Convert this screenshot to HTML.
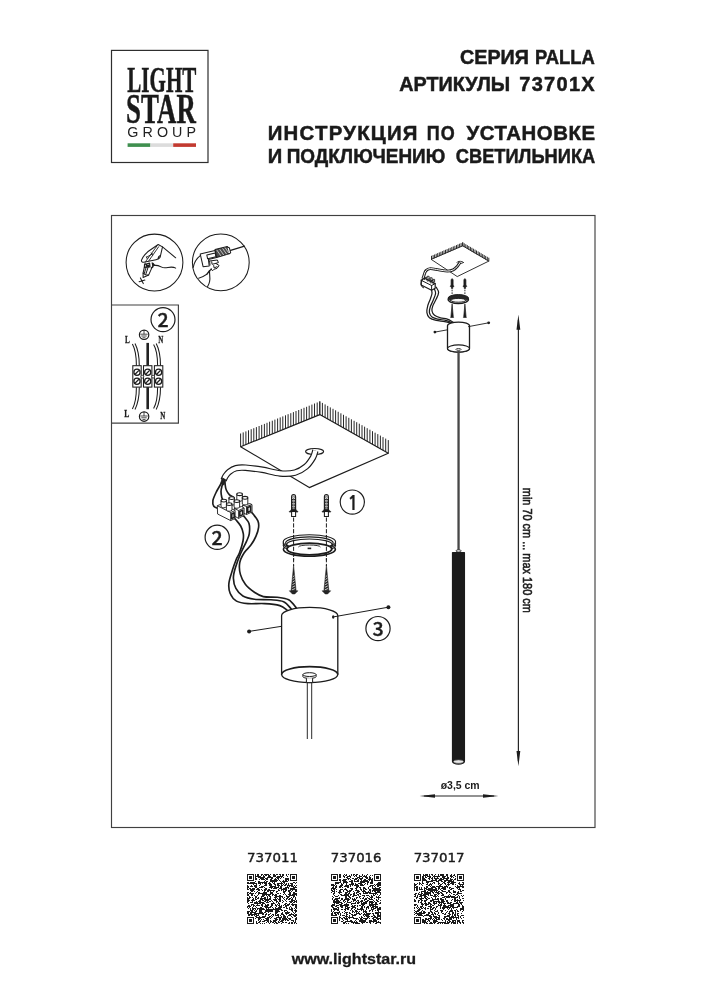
<!DOCTYPE html>
<html lang="ru"><head><meta charset="utf-8"><title>Lightstar PALLA 73701X</title>
<style>
html,body{margin:0;padding:0;background:#fff;}
body{width:707px;height:1000px;overflow:hidden;font-family:"Liberation Sans",sans-serif;}
svg{display:block;will-change:transform;}
</style></head><body>
<svg width="707" height="1000" viewBox="0 0 707 1000">
<rect width="707" height="1000" fill="#fff"/>
<g id="logo">
<rect x="111.5" y="50.4" width="96.5" height="112.1" fill="#fff" stroke="#2e2e2e" stroke-width="1.2"/>
<text transform="translate(127.28 91.7) scale(0.5888 1)" font-family="'Liberation Serif', serif" font-weight="bold" font-size="35.8" fill="#1a1a1a" stroke="#1a1a1a" stroke-width="0.5">LIGHT</text>
<text transform="translate(126.12 122.8) scale(0.6476 1)" font-family="'Liberation Serif', serif" font-weight="bold" font-size="41.5" fill="#1a1a1a" stroke="#1a1a1a" stroke-width="0.5">STAR</text>
<text transform="translate(127.28 136.6) scale(1.0000 1)" font-family="'Liberation Sans', sans-serif" font-weight="normal" font-size="14.3" fill="#222" letter-spacing="4.080">GROUP</text>
<rect x="127.6" y="143.3" width="22.8" height="3.6" fill="#3f8f4f"/>
<rect x="150.4" y="143.3" width="22.8" height="3.6" fill="#dcdcdc"/>
<rect x="173.2" y="143.3" width="22.8" height="3.6" fill="#c23a30"/>
</g>
<text transform="translate(460.01 64.4) scale(0.9867 1)" font-family="'Liberation Sans', sans-serif" font-weight="bold" font-size="20" fill="#1a1a1a" stroke="#1a1a1a" stroke-width="0.5">СЕРИЯ</text>
<text transform="translate(534.90 64.4) scale(0.9210 1)" font-family="'Liberation Sans', sans-serif" font-weight="bold" font-size="20" fill="#1a1a1a" stroke="#1a1a1a" stroke-width="0.5">PALLA</text>
<text transform="translate(399.20 91.4) scale(0.9909 1)" font-family="'Liberation Sans', sans-serif" font-weight="bold" font-size="20" fill="#1a1a1a" stroke="#1a1a1a" stroke-width="0.5">АРТИКУЛЫ</text>
<text transform="translate(519.30 91.4) scale(1.0000 1)" font-family="'Liberation Sans', sans-serif" font-weight="bold" font-size="20" fill="#1a1a1a" stroke="#1a1a1a" stroke-width="0.5" letter-spacing="1.280">73701X</text>
<text transform="translate(267.67 139.7) scale(1.0000 1)" font-family="'Liberation Sans', sans-serif" font-weight="bold" font-size="20.4" fill="#1a1a1a" stroke="#1a1a1a" stroke-width="0.5" letter-spacing="1.237">ИНСТРУКЦИЯ</text>
<text transform="translate(426.73 139.7) scale(0.8800 1)" font-family="'Liberation Sans', sans-serif" font-weight="bold" font-size="20.4" fill="#1a1a1a" stroke="#1a1a1a" stroke-width="0.5" letter-spacing="1.189">ПО</text>
<text transform="translate(466.40 139.7) scale(1.0000 1)" font-family="'Liberation Sans', sans-serif" font-weight="bold" font-size="20.4" fill="#1a1a1a" stroke="#1a1a1a" stroke-width="0.5" letter-spacing="0.573">УСТАНОВКЕ</text>
<text transform="translate(267.69 162.9) scale(0.9888 1)" font-family="'Liberation Sans', sans-serif" font-weight="bold" font-size="20.4" fill="#1a1a1a" stroke="#1a1a1a" stroke-width="0.5">И</text>
<text transform="translate(286.67 162.9) scale(0.9294 1)" font-family="'Liberation Sans', sans-serif" font-weight="bold" font-size="20.4" fill="#1a1a1a" stroke="#1a1a1a" stroke-width="0.5">ПОДКЛЮЧЕНИЮ</text>
<text transform="translate(455.77 162.9) scale(0.8956 1)" font-family="'Liberation Sans', sans-serif" font-weight="bold" font-size="20.4" fill="#1a1a1a" stroke="#1a1a1a" stroke-width="0.5">СВЕТИЛЬНИКА</text>
<g id="frame" fill="none" stroke="#404040" stroke-width="1.15">
<rect x="111.5" y="215.5" width="483.5" height="612"/>
<path d="M111.5 305.0H178.4V423.1H111.5"/>
</g>
<g id="icons" fill="none" stroke="#1c1c1c" stroke-width="1.05" stroke-linecap="round" stroke-linejoin="round">
<circle cx="154.5" cy="262.5" r="28.4" stroke-width="1.05"/>
<circle cx="220.8" cy="262.4" r="28.4" stroke-width="1.05"/>
<path d="M158.2 244.5 L147.7 251.8 C144.5 254.6 142.3 257.8 141.4 260.4 C141.4 261.6 142.3 262.4 143.6 262.3 L156.0 259.7 C159.2 259.1 160.5 257.8 160.5 255.6 L162.5 246.9 Z" fill="#fff"/>
<path d="M160.5 255.6 C159.2 255.9 158.2 257.2 158.2 258.8"/>
<path d="M157.0 245.9 L145.8 261.3 M158.7 246.7 L148.7 261.0" stroke-dasharray="1.1 0.6" stroke-width="0.9"/>
<path d="M146.5 257.2 L152.8 253.7 M151.2 253.0 L152.5 255.0 M146.5 256.9 L147.1 258.5" stroke-width="0.9"/>
<path d="M145.2 262.9 L143.1 273.1 L143.1 277.4 L148.7 274.9 L153.1 265.1" fill="#fff"/>
<path d="M143.1 273.1 L145.5 274.7 L148.7 274.9"/>
<path d="M146.8 265.1 L144.2 273.4 M148.7 265.5 L145.8 274.1" stroke-dasharray="1.1 0.6"/>
<path d="M144.5 264.5 L149.6 263.2 L150.0 266.7 L144.5 267.4 Z M146.5 265.1 L149.3 267.1 M152.2 262.9 L153.1 266.7 L151.2 268.0" stroke-width="1.2"/>
<path d="M146.8 265.5 L149.3 265.1 L148.7 266.7Z" fill="#1c1c1c"/>
<path d="M153.1 263.6 L154.1 265.1" stroke-width="1.6"/>
<path d="M162.5 246.9 L175.7 257.8"/>
<path d="M153.5 265.1 C156.6 265.1 159.2 265.5 161.7 267.1 S168.1 267.1 171.3 267.1 S174.5 267.4 175.7 268.1"/>
<path d="M140.4 277.9 L143.3 283.6 M139.1 281.7 L144.9 280.1"/>
<path d="M200.2 254.0 L215.0 250.5 L216.6 257.5 L208.4 259.5 L209.2 265.9 L203.1 266.7 Z" fill="#fff"/>
<path d="M206.8 255.0 L215.2 253.1 L216.0 256.7 L207.6 258.7 Z"/>
<path d="M215.0 249.5 L227.3 246.6 L229.1 253.8 L216.6 257.5 Z" fill="#4a4a4a"/>
<path d="M217.0 250.3 L220.7 255.6 M219.9 249.5 L223.6 254.8 M222.8 248.7 L226.5 254.0 M225.2 247.8 L228.5 252.6" stroke="#e8e8e8" stroke-width="0.75"/>
<path d="M227.3 246.9 L229.3 247.7 L230.7 252.9 L229.1 253.8" fill="#fff"/>
<path d="M230.6 250.3 L244.5 246.2" stroke-width="1.3"/>
<path d="M209.6 261.0 L217.4 260.0 L218.4 262.6 L215.8 263.4 L219.1 265.5 L217.0 268.4 L214.1 269.2 L212.5 270.8 L211.3 269.2 M211.7 261.8 L212.1 264.3 L215.8 263.4 M213.7 265.5 L214.1 267.9 L217.0 266.7 M209.6 261.0 L210.0 265.1" stroke-width="1"/>
<path d="M200.2 255.6 C196.5 258.5 194.1 262.6 193.2 267.5"/>
<path d="M198.6 278.2 C203.5 277.0 208.4 274.1 211.3 268.8"/>
<path d="M209.6 270.4 C208.0 272.5 207.2 273.7 206.8 274.5 M209.6 270.8 C209.2 274.1 210.5 277.4 209.6 281.5 C209.2 283.5 208.4 285.2 207.6 286.6" stroke-width="1.1"/>
</g>
<g id="wiring" fill="none" stroke="#1c1c1c" stroke-width="1.05">
<circle cx="163.0" cy="319.6" r="12.0" fill="#fff" stroke="#1c1c1c" stroke-width="1.2"/>
<text x="163.0" y="326.8" text-anchor="middle" font-family="'Noto Sans CJK SC', 'Liberation Sans', sans-serif" font-weight="500" font-size="19.6" fill="#1c1c1c" stroke="#1c1c1c" stroke-width="0.35">2</text>
<circle cx="144.1" cy="334.8" r="4.7" fill="#fff" stroke-width="1.2"/>
<path d="M144 330.0V334.2M140.3 334.2H147.7M141.3 336.0H146.7M142.5 337.8H145.5" stroke-width="0.8"/>
<circle cx="144.1" cy="416.6" r="4.7" fill="#fff" stroke-width="1.2"/>
<path d="M144 411.8V416.0M140.3 416.0H147.7M141.3 417.8H146.7M142.5 419.6H145.5" stroke-width="0.8"/>
<rect x="146.4" y="342.9" width="2.6" height="22.8" fill="#222" stroke="none"/>
<rect x="146.4" y="387.1" width="2.6" height="22.1" fill="#222" stroke="none"/>
<path d="M132.4 344.0 C135.4 349.4 136.4 357.2 136.4 365.7 M135.0 343.6 C138.0 349.4 139.3 357.2 139.3 365.7"/>
<path d="M132.4 409.0 C135.4 403.5 136.4 395.7 136.4 387.3 M135.0 409.4 C138.0 403.5 139.3 395.7 139.3 387.3"/>
<path d="M153.6 344.5 C156.6 349.4 157.6 357.2 157.6 365.7 M156.2 343.6 C159.2 349.4 160.5 357.2 160.5 365.7"/>
<path d="M153.6 408.5 C156.6 403.5 157.6 395.7 157.6 387.3 M156.2 409.4 C159.2 403.5 160.5 395.7 160.5 387.3"/>
<rect x="132.8" y="365.7" width="8.4" height="21.4" fill="#fff"/>
<circle cx="137.0" cy="372.3" r="3.1" fill="#fff" stroke-width="1.25"/>
<path d="M135.1 374.2L138.9 370.40000000000003" stroke-width="1.3"/>
<circle cx="137.0" cy="381.2" r="3.1" fill="#fff" stroke-width="1.25"/>
<path d="M135.1 383.09999999999997L138.9 379.3" stroke-width="1.3"/>
<rect x="143.5" y="365.7" width="8.4" height="21.4" fill="#fff"/>
<circle cx="147.7" cy="372.3" r="3.1" fill="#fff" stroke-width="1.25"/>
<path d="M145.79999999999998 374.2L149.6 370.40000000000003" stroke-width="1.3"/>
<circle cx="147.7" cy="381.2" r="3.1" fill="#fff" stroke-width="1.25"/>
<path d="M145.79999999999998 383.09999999999997L149.6 379.3" stroke-width="1.3"/>
<rect x="154.4" y="365.7" width="8.4" height="21.4" fill="#fff"/>
<circle cx="158.6" cy="372.3" r="3.1" fill="#fff" stroke-width="1.25"/>
<path d="M156.7 374.2L160.5 370.40000000000003" stroke-width="1.3"/>
<circle cx="158.6" cy="381.2" r="3.1" fill="#fff" stroke-width="1.25"/>
<path d="M156.7 383.09999999999997L160.5 379.3" stroke-width="1.3"/>
<circle cx="142.35" cy="376.7" r="1.4" fill="#fff" stroke-width="0.8"/>
<circle cx="153.15" cy="376.7" r="1.4" fill="#fff" stroke-width="0.8"/>
</g>
<text transform="translate(125.09 342.8) scale(0.6936 1)" font-family="'Liberation Serif', serif" font-weight="bold" font-size="10.4" fill="#1c1c1c" stroke="#1c1c1c" stroke-width="0.3">L</text>
<text transform="translate(158.16 342.8) scale(0.6689 1)" font-family="'Liberation Serif', serif" font-weight="bold" font-size="10.4" fill="#1c1c1c" stroke="#1c1c1c" stroke-width="0.3">N</text>
<text transform="translate(124.29 417.4) scale(0.7251 1)" font-family="'Liberation Serif', serif" font-weight="bold" font-size="10.4" fill="#1c1c1c" stroke="#1c1c1c" stroke-width="0.3">L</text>
<text transform="translate(160.26 418.7) scale(0.6689 1)" font-family="'Liberation Serif', serif" font-weight="bold" font-size="10.4" fill="#1c1c1c" stroke="#1c1c1c" stroke-width="0.3">N</text>
<g id="main" fill="none" stroke="#1c1c1c" stroke-width="1.15" stroke-linejoin="round">
<path d="M240.6 446.7L319.8 414.6L388.3 453.3L309.3 487.6Z" fill="#fff"/>
<path d="M240.6 446.7v-13.2M243.2 445.6v-13.2M245.9 444.6v-13.2M248.5 443.5v-13.2M251.2 442.4v-13.2M253.8 441.4v-13.2M256.4 440.3v-13.2M259.1 439.2v-13.2M261.7 438.1v-13.2M264.4 437.1v-13.2M267.0 436.0v-13.2M269.6 434.9v-13.2M272.3 433.9v-13.2M274.9 432.8v-13.2M277.6 431.7v-13.2M280.2 430.6v-13.2M282.8 429.6v-13.2M285.5 428.5v-13.2M288.1 427.4v-13.2M290.8 426.4v-13.2M293.4 425.3v-13.2M296.0 424.2v-13.2M298.7 423.2v-13.2M301.3 422.1v-13.2M304.0 421.0v-13.2M306.6 420.0v-13.2M309.2 418.9v-13.2M311.9 417.8v-13.2M314.5 416.7v-13.2M317.2 415.7v-13.2M319.8 414.6v-13.2" fill="none" stroke="#1c1c1c" stroke-width="0.95"/>
<path d="M319.8 414.6v-13.2M322.4 416.1v-13.2M325.1 417.6v-13.2M327.7 419.1v-13.2M330.3 420.6v-13.2M333.0 422.0v-13.2M335.6 423.5v-13.2M338.2 425.0v-13.2M340.9 426.5v-13.2M343.5 428.0v-13.2M346.1 429.5v-13.2M348.8 431.0v-13.2M351.4 432.5v-13.2M354.1 434.0v-13.2M356.7 435.4v-13.2M359.3 436.9v-13.2M362.0 438.4v-13.2M364.6 439.9v-13.2M367.2 441.4v-13.2M369.9 442.9v-13.2M372.5 444.4v-13.2M375.1 445.9v-13.2M377.8 447.3v-13.2M380.4 448.8v-13.2M383.0 450.3v-13.2M385.7 451.8v-13.2M388.3 453.3v-13.2" fill="none" stroke="#1c1c1c" stroke-width="0.95"/>
<ellipse cx="314.6" cy="451.5" rx="9" ry="3" fill="#fff"/>
</g>
<path d="M315.4 450.6 C315.0 451.8 314.6 454.8 313.0 457.5 C311.4 460.2 309.0 464.1 306.0 466.6 C303.0 469.1 299.3 471.5 295.0 472.6 C290.7 473.7 285.4 473.9 280.0 473.4 C274.6 472.9 268.1 470.8 262.4 469.8 C256.6 468.9 249.9 468.0 245.5 467.7 C241.1 467.4 238.7 467.5 236.0 468.2 C233.3 468.9 230.9 470.5 229.2 471.8 C227.5 473.1 226.5 474.6 225.6 476.0 C224.7 477.4 223.9 479.5 223.6 480.2" fill="none" stroke="#1c1c1c" stroke-width="6.5" stroke-linecap="butt"/>
<path d="M315.4 450.6 C315.0 451.8 314.6 454.8 313.0 457.5 C311.4 460.2 309.0 464.1 306.0 466.6 C303.0 469.1 299.3 471.5 295.0 472.6 C290.7 473.7 285.4 473.9 280.0 473.4 C274.6 472.9 268.1 470.8 262.4 469.8 C256.6 468.9 249.9 468.0 245.5 467.7 C241.1 467.4 238.7 467.5 236.0 468.2 C233.3 468.9 230.9 470.5 229.2 471.8 C227.5 473.1 226.5 474.6 225.6 476.0 C224.7 477.4 223.9 479.5 223.6 480.2" fill="none" stroke="#fff" stroke-width="4.2" stroke-linecap="butt"/>
<g fill="none" stroke="#1c1c1c" stroke-width="1.65" stroke-linecap="round">
<path d="M223.3 479.3 C222.8 480.3 221.1 483.4 220.0 485.5 C218.9 487.6 217.7 489.1 216.5 491.6 C215.3 494.1 213.3 498.1 212.9 500.5 C212.5 502.9 213.0 505.0 213.8 506.3 C214.6 507.6 217.1 508.0 217.8 508.4"/>
<path d="M224.0 479.8 C223.7 480.8 222.5 484.0 222.0 486.0 C221.5 488.0 221.0 489.7 221.0 491.6 C221.0 493.5 221.4 495.9 221.8 497.5 C222.2 499.1 223.4 500.8 223.7 501.4"/>
<path d="M224.9 480.0 C224.9 480.8 225.0 483.3 225.2 485.0 C225.4 486.7 225.6 488.4 226.3 490.0 C227.0 491.6 228.3 493.6 229.5 494.8 C230.7 496.0 232.8 496.8 233.5 497.2"/>
<path d="M222.4 478.0 L225.4 479.6 L223.8 485 L221.2 483.6Z" fill="#222" stroke-width="0.8"/>
<path d="M233.6 517.4 C234.1 517.9 235.1 518.9 236.3 520.3 C237.5 521.7 239.5 523.8 240.7 526.0 C241.9 528.2 242.9 531.1 243.3 533.6 C243.7 536.1 243.6 537.8 243.0 541.0 C242.4 544.2 240.7 549.5 239.5 552.7 C238.3 555.9 237.1 557.2 236.0 560.0 C234.9 562.8 233.9 565.4 232.7 569.3 C231.5 573.2 229.3 579.3 228.9 583.3 C228.5 587.3 228.9 590.5 230.2 593.5 C231.5 596.5 233.5 599.4 236.5 601.1 C239.5 602.8 243.3 603.2 248.0 603.6 C252.7 604.0 259.3 603.3 264.6 603.6 C269.9 603.9 276.0 604.5 279.8 605.6 C283.6 606.8 286.2 609.7 287.5 610.5"/>
<path d="M242.0 514.2 C242.4 514.7 243.4 515.6 244.6 517.1 C245.8 518.6 248.2 520.8 249.0 523.5 C249.8 526.2 249.7 530.6 249.3 533.6 C248.9 536.6 248.0 537.9 246.5 541.3 C245.0 544.7 242.3 549.5 240.4 554.0 C238.5 558.5 236.5 564.0 235.3 568.0 C234.1 572.0 233.3 574.8 233.4 578.2 C233.5 581.6 234.3 585.4 235.9 588.4 C237.5 591.4 239.8 594.2 242.9 596.0 C246.0 597.8 249.7 598.6 254.4 599.2 C259.1 599.8 266.0 599.4 270.9 599.8 C275.8 600.2 280.2 600.2 283.6 601.7 C287.0 603.2 290.0 607.8 291.3 609.0"/>
<path d="M250.6 511.4 C251.1 511.9 252.3 513.0 253.5 514.6 C254.7 516.2 257.0 518.8 257.9 520.9 C258.8 523.0 258.9 524.8 258.6 527.3 C258.3 529.8 257.3 533.2 256.0 536.2 C254.7 539.2 252.9 542.4 250.9 545.1 C248.9 547.9 246.1 549.7 244.2 552.7 C242.3 555.7 240.3 559.3 239.7 562.9 C239.1 566.5 239.4 570.8 240.4 574.4 C241.4 578.0 243.2 581.6 245.5 584.6 C247.8 587.6 251.4 590.2 254.4 592.2 C257.4 594.2 259.5 595.8 263.3 596.6 C267.1 597.5 273.1 596.8 277.3 597.3 C281.5 597.8 285.5 598.0 288.7 599.8 C291.9 601.6 295.1 606.6 296.4 608.0"/>
</g>
<g id="term" fill="#fff" stroke="#1c1c1c" stroke-width="0.9" stroke-linejoin="round">
<path d="M242.6 505.0 L250.0 503.6 L252.0 504.6 L252.0 512.0 L246.5 514.5 L242.6 512.5Z"/>
<path d="M246.5 506.5 L252.0 504.6 M246.5 506.5 L246.5 514.5 M246.5 506.5 L242.6 505.0"/>
<path d="M247.7 507.5 L250.7 506.3 L250.7 511.0 L247.7 512.5Z" fill="#ddd" stroke-width="1.5"/>
<path d="M234.2 508.5 L241.6 506.5 L244.1 508.0 L244.1 515.4 L238.6 518.4 L234.2 515.9Z"/>
<path d="M238.6 510.5 L244.1 508.0 M238.6 510.5 L238.6 518.4 M238.6 510.5 L234.2 508.5"/>
<path d="M239.8 511.5 L242.8 510.1 L242.8 514.7 L239.8 516.2Z" fill="#ddd" stroke-width="1.5"/>
<path d="M217.3 505.7 L221.3 504.1 L235.1 510.5 L235.1 518.4 L230.7 520.6 L217.6 514.0Z"/>
<path d="M217.3 505.7 L230.7 512.5 L235.1 510.5 M230.7 512.5 L230.7 520.6"/>
<path d="M231.7 514.0 L234.2 512.8 L234.2 517.4 L231.7 518.7Z" fill="#ddd" stroke-width="1.5"/>
<path d="M236.8 494.2 L236.8 500.3 C238.2 501.7 241.0 501.7 242.4 500.3 L242.4 494.2Z"/>
<ellipse cx="239.6" cy="494.2" rx="2.8" ry="1.4" stroke-width="1.1"/>
<path d="M242.3 497.8 L242.3 504.0 C243.7 505.3 246.4 505.3 247.8 504.0 L247.8 497.8Z"/>
<ellipse cx="245.0" cy="497.8" rx="2.8" ry="1.4" stroke-width="1.1"/>
<path d="M228.9 498.1 L228.9 504.3 C230.3 505.6 233.1 505.6 234.5 504.3 L234.5 498.1Z"/>
<ellipse cx="231.7" cy="498.1" rx="2.8" ry="1.4" stroke-width="1.1"/>
<path d="M234.1 501.1 L234.1 507.2 C235.4 508.6 238.2 508.6 239.6 507.2 L239.6 501.1Z"/>
<ellipse cx="236.8" cy="501.1" rx="2.8" ry="1.4" stroke-width="1.1"/>
<path d="M221.0 500.6 L221.0 506.7 C222.4 508.1 225.1 508.1 226.5 506.7 L226.5 500.6Z"/>
<ellipse cx="223.8" cy="500.6" rx="2.8" ry="1.4" stroke-width="1.1"/>
<path d="M226.4 504.1 L226.4 510.2 C227.8 511.6 230.6 511.6 232.0 510.2 L232.0 504.1Z"/>
<ellipse cx="229.2" cy="504.1" rx="2.8" ry="1.4" stroke-width="1.1"/>
</g>
<circle cx="217.2" cy="537.3" r="12.1" fill="#fff" stroke="#1c1c1c" stroke-width="1.2"/>
<text x="217.2" y="544.5" text-anchor="middle" font-family="'Noto Sans CJK SC', 'Liberation Sans', sans-serif" font-weight="500" font-size="19.6" fill="#1c1c1c" stroke="#1c1c1c" stroke-width="0.35">2</text>
<circle cx="352.3" cy="502.1" r="12.1" fill="#fff" stroke="#1c1c1c" stroke-width="1.2"/>
<text x="353.1" y="509.8" text-anchor="middle" font-family="NanumGothic, 'Liberation Sans', sans-serif" font-weight="bold" font-size="19" fill="#1c1c1c" stroke="#1c1c1c" stroke-width="0.2">1</text>
<circle cx="378.0" cy="628.6" r="12.1" fill="#fff" stroke="#1c1c1c" stroke-width="1.2"/>
<text x="378.0" y="635.8" text-anchor="middle" font-family="'Noto Sans CJK SC', 'Liberation Sans', sans-serif" font-weight="500" font-size="19.6" fill="#1c1c1c" stroke="#1c1c1c" stroke-width="0.35">3</text>
<path d="M293.6 517.5V566" stroke="#1c1c1c" stroke-width="1" stroke-dasharray="4.2 1.6" fill="none"/>
<path d="M326.4 517.5V566" stroke="#1c1c1c" stroke-width="1" stroke-dasharray="4.2 1.6" fill="none"/>
<g id="ring" fill="none" stroke="#1c1c1c" stroke-width="1.15">
<ellipse cx="309.4" cy="549.3" rx="26.0" ry="6.9" fill="#fff" stroke-width="1.6"/>
<ellipse cx="309.4" cy="545.2" rx="26.2" ry="7.0" fill="#fff"/>
<ellipse cx="309.4" cy="543.6" rx="26.2" ry="7.0" fill="#fff"/>
<ellipse cx="309.4" cy="541.9" rx="26.2" ry="7.2" fill="#fff"/>
<ellipse cx="309.4" cy="543.0" rx="23.8" ry="6.2"/>
<ellipse cx="309.4" cy="544.6" rx="22.8" ry="5.6"/>
<ellipse cx="309.4" cy="549.0" rx="22.4" ry="5.8" fill="#fff" stroke-width="1.8"/>
<path d="M298.4 547.0 A11 2.0 0 0 1 320.4 547.0" stroke-width="0.9"/>
<rect x="307.59999999999997" y="547.6" width="3.6" height="1.6" fill="#222" stroke="none"/>
</g>
<path d="M293.6 534V560.5" stroke="#1c1c1c" stroke-width="1" stroke-dasharray="4.2 1.6" stroke-dashoffset="-1.1" fill="none"/>
<path d="M291.6 510.1 V496.9 A2.0 2.4 0 0 1 295.6 496.9 V510.1Z" fill="#fff" stroke="#1c1c1c" stroke-width="1.15"/>
<path d="M291.6 499.5H295.6M291.6 501.1H295.6M291.6 502.6H295.6M291.6 504.2H295.6M291.6 505.7H295.6M291.6 507.3H295.6M291.6 508.8H295.6" fill="none" stroke="#1c1c1c" stroke-width="0.95"/>
<path d="M293.6 499.3V510.1" fill="none" stroke="#aaa" stroke-width="0.6"/>
<ellipse cx="293.6" cy="497.3" rx="0.8" ry="1.4" fill="#fff" stroke="#1c1c1c" stroke-width="0.6"/>
<path d="M289.20000000000005 511.5 Q290.8 511.1 291.20000000000005 509.5 H296.0 Q296.40000000000003 511.1 298.0 511.5 L297.8 512.1 H289.40000000000003Z" fill="#1c1c1c" stroke="#1c1c1c" stroke-width="0.6"/>
<path d="M291.6 512.1 V516.5 H295.6 V512.1" fill="#fff" stroke="#1c1c1c" stroke-width="1.05"/>
<path d="M293.6 565.0 L291.1 590.8 H296.1Z" fill="#262626" stroke="#1c1c1c" stroke-width="0.5" stroke-linejoin="round"/>
<path d="M292.9 576.9L294.3 575.5M292.7 579.5L294.5 578.1M292.5 582.1L294.7 580.7M292.4 584.7L294.8 583.3M292.2 587.3L295.0 585.9M292.0 589.9L295.2 588.5" fill="none" stroke="#f0f0f0" stroke-width="0.8"/>
<path d="M289.3 590.8 H297.90000000000003 L294.8 594.0 H292.40000000000003Z" fill="#262626" stroke="#1c1c1c" stroke-width="0.5" stroke-linejoin="round"/>
<path d="M326.4 534V560.5" stroke="#1c1c1c" stroke-width="1" stroke-dasharray="4.2 1.6" stroke-dashoffset="-1.1" fill="none"/>
<path d="M324.4 510.1 V496.9 A2.0 2.4 0 0 1 328.4 496.9 V510.1Z" fill="#fff" stroke="#1c1c1c" stroke-width="1.15"/>
<path d="M324.4 499.5H328.4M324.4 501.1H328.4M324.4 502.6H328.4M324.4 504.2H328.4M324.4 505.7H328.4M324.4 507.3H328.4M324.4 508.8H328.4" fill="none" stroke="#1c1c1c" stroke-width="0.95"/>
<path d="M326.4 499.3V510.1" fill="none" stroke="#aaa" stroke-width="0.6"/>
<ellipse cx="326.4" cy="497.3" rx="0.8" ry="1.4" fill="#fff" stroke="#1c1c1c" stroke-width="0.6"/>
<path d="M322.0 511.5 Q323.59999999999997 511.1 324.0 509.5 H328.79999999999995 Q329.2 511.1 330.79999999999995 511.5 L330.59999999999997 512.1 H322.2Z" fill="#1c1c1c" stroke="#1c1c1c" stroke-width="0.6"/>
<path d="M324.4 512.1 V516.5 H328.4 V512.1" fill="#fff" stroke="#1c1c1c" stroke-width="1.05"/>
<path d="M326.4 565.0 L323.9 590.8 H328.9Z" fill="#262626" stroke="#1c1c1c" stroke-width="0.5" stroke-linejoin="round"/>
<path d="M325.7 576.9L327.1 575.5M325.5 579.5L327.3 578.1M325.3 582.1L327.5 580.7M325.2 584.7L327.6 583.3M325.0 587.3L327.8 585.9M324.8 589.9L328.0 588.5" fill="none" stroke="#f0f0f0" stroke-width="0.8"/>
<path d="M322.09999999999997 590.8 H330.7 L327.59999999999997 594.0 H325.2Z" fill="#262626" stroke="#1c1c1c" stroke-width="0.5" stroke-linejoin="round"/>
<g id="cyl" fill="none" stroke="#1c1c1c" stroke-width="1.3">
<path d="M281.59999999999997 674.6 V615.6 A28.1 8.2 0 0 1 337.8 615.6 V674.6 A28.1 7.9 0 0 1 281.59999999999997 674.6Z" fill="#fff"/>
<path d="M281.59999999999997 674.6 A28.1 7.9 0 0 1 337.8 674.6" stroke-width="1.7"/>
<path d="M302.9 674.6 V676.6 A6.6 1.8 0 0 0 316.1 676.6 V674.6" fill="#fff" stroke-width="1"/>
<ellipse cx="309.5" cy="674.6" rx="6.6" ry="1.9" fill="#fff" stroke-width="1"/>
<path d="M306.4 678.2 V682.6 H312.6 V678.2" fill="#fff" stroke-width="1"/>
<path d="M307.3 682.6 V739 M311.7 682.6 V739" stroke-width="1" stroke="#2a2a2a"/>
<path d="M249.1 631.4L281.6 626.3M333.4 616.9L388.4 607.2" stroke-width="1"/>
<circle cx="249.1" cy="631.4" r="2" fill="#1c1c1c" stroke="none"/><circle cx="388.4" cy="607.2" r="2" fill="#1c1c1c" stroke="none"/><ellipse cx="333.2" cy="617" rx="1.2" ry="1.7" fill="#1c1c1c" stroke="none"/>
</g>
<g id="small" fill="none" stroke="#1c1c1c" stroke-width="1" stroke-linejoin="round" stroke-linecap="round">
<path d="M431.5 259.2L462.7 245.8L488.8 261.1L457.6 276.4Z" fill="#fff" stroke-width="0.9"/>
<path d="M431.5 259.2v-3.0M433.1 258.5v-3.0M434.6 257.9v-3.0M436.2 257.2v-3.0M437.7 256.5v-3.0M439.3 255.8v-3.0M440.9 255.2v-3.0M442.4 254.5v-3.0M444.0 253.8v-3.0M445.5 253.2v-3.0M447.1 252.5v-3.0M448.7 251.8v-3.0M450.2 251.2v-3.0M451.8 250.5v-3.0M453.3 249.8v-3.0M454.9 249.2v-3.0M456.5 248.5v-3.0M458.0 247.8v-3.0M459.6 247.1v-3.0M461.1 246.5v-3.0M462.7 245.8v-3.0" fill="none" stroke="#222" stroke-width="0.95"/>
<path d="M462.7 245.8v-3.0M464.2 246.7v-3.0M465.8 247.6v-3.0M467.3 248.5v-3.0M468.8 249.4v-3.0M470.4 250.3v-3.0M471.9 251.2v-3.0M473.4 252.1v-3.0M475.0 253.0v-3.0M476.5 253.9v-3.0M478.1 254.8v-3.0M479.6 255.7v-3.0M481.1 256.6v-3.0M482.7 257.5v-3.0M484.2 258.4v-3.0M485.7 259.3v-3.0M487.3 260.2v-3.0M488.8 261.1v-3.0" fill="none" stroke="#222" stroke-width="0.95"/>
<ellipse cx="460.2" cy="262.4" rx="3.2" ry="1.1" stroke-width="0.8"/>
</g>
<path d="M460.2 262.2 C459.7 262.9 458.6 264.9 457.4 266.2 C456.2 267.5 454.9 269.1 453.2 269.9 C451.5 270.7 449.7 271.1 447.3 271.1 C444.9 271.1 441.6 270.3 438.8 269.9 C436.0 269.5 432.4 268.5 430.3 268.6 C428.2 268.7 427.0 269.6 426.0 270.6 C425.0 271.6 424.8 273.1 424.3 274.5 C423.8 275.9 423.1 278.1 422.8 278.8" fill="none" stroke="#1c1c1c" stroke-width="2.9" stroke-linecap="butt"/>
<path d="M460.2 262.2 C459.7 262.9 458.6 264.9 457.4 266.2 C456.2 267.5 454.9 269.1 453.2 269.9 C451.5 270.7 449.7 271.1 447.3 271.1 C444.9 271.1 441.6 270.3 438.8 269.9 C436.0 269.5 432.4 268.5 430.3 268.6 C428.2 268.7 427.0 269.6 426.0 270.6 C425.0 271.6 424.8 273.1 424.3 274.5 C423.8 275.9 423.1 278.1 422.8 278.8" fill="none" stroke="#fff" stroke-width="1.0" stroke-linecap="butt"/>
<g fill="none" stroke="#1c1c1c" stroke-width="1.25" stroke-linecap="round" stroke-linejoin="round">
<path d="M431.1 288.5 C431.2 289.3 432.1 291.4 432.0 293.2 C431.9 295.0 431.0 297.0 430.3 299.1 C429.6 301.2 428.3 303.6 427.7 305.9 C427.1 308.2 426.6 310.7 426.9 312.7 C427.2 314.7 427.8 316.5 429.4 317.8 C430.9 319.1 433.6 319.8 436.2 320.4 C438.8 321.0 442.3 321.1 444.7 321.6 C447.1 322.1 449.7 322.9 450.7 323.2"/>
<path d="M434.0 288.0 C434.3 288.9 435.7 291.2 435.6 293.2 C435.5 295.2 434.2 297.7 433.3 300.0 C432.4 302.3 431.0 304.7 430.3 306.8 C429.6 308.9 429.1 311.0 429.4 312.7 C429.7 314.4 430.6 315.9 432.0 317.0 C433.4 318.1 435.6 318.5 437.9 319.1 C440.2 319.7 443.3 319.8 445.6 320.4 C447.9 321.0 450.8 322.2 451.8 322.6"/>
<path d="M436.2 287.2 C436.6 288.1 438.6 290.4 438.6 292.4 C438.6 294.4 437.2 296.9 436.2 299.1 C435.2 301.4 433.5 303.9 432.8 305.9 C432.1 307.9 431.7 309.4 432.0 311.0 C432.3 312.6 433.1 314.2 434.5 315.3 C435.9 316.4 438.4 317.2 440.5 317.8 C442.6 318.4 445.2 318.4 447.3 319.1 C449.4 319.8 452.2 321.7 453.2 322.2"/>
<path d="M421.2 280.3 L424.6 278.2 L435.2 283.6 L435.2 288.2 L431.6 290.2 L421.2 285Z" fill="#fff" stroke-width="1.2"/>
<path d="M421.2 280.3 L431.6 285.5 L435.2 283.6 M431.6 285.5 V290.2" stroke-width="1"/>
<path d="M424.6 279.6 v-2.2 h2.2 v2.8 M427.9 281.4 v-2.4 h2.2 v3 M430.9 283.1 v-2.6 h2.2 v3 M427.1 278.1 v-1.8 h2 v2 M430.1 279.6 v-1.8 h2 v2 M432.8 281 v-1.6 h1.8 v2.4" stroke-width="0.9"/>
<path d="M422.8 278.8 C420.4 282.5 420.2 286.2 423.4 287.8" stroke-width="1.1"/>
</g>
<g fill="#1c1c1c" stroke="#1c1c1c" stroke-width="0.7" stroke-linejoin="round">
<path d="M452.1 278.6 L451.1 279.8 V285.2 L450.1 286.2 L451.40000000000003 286.9 V288.4 H452.8 V286.9 L454.1 286.2 L453.1 285.2 V279.8Z"/>
<path d="M452.1 289.6V294" stroke-dasharray="1.7 1" stroke-width="0.9" fill="none"/>
<path d="M452.1 304.0 L450.95000000000005 316.6 L450.6 317.4 H453.6 L453.25 316.6Z"/>
<path d="M464.9 278.6 L463.9 279.8 V285.2 L462.9 286.2 L464.2 286.9 V288.4 H465.59999999999997 V286.9 L466.9 286.2 L465.9 285.2 V279.8Z"/>
<path d="M464.9 289.6V294" stroke-dasharray="1.7 1" stroke-width="0.9" fill="none"/>
<path d="M464.9 304.0 L463.75 316.6 L463.4 317.4 H466.4 L466.04999999999995 316.6Z"/>
</g>
<ellipse cx="458.3" cy="299.6" rx="10.2" ry="3.9" fill="#fff" stroke="#1c1c1c" stroke-width="1.3"/>
<ellipse cx="458.3" cy="298.1" rx="10.2" ry="3.5" fill="#262626" stroke="#1c1c1c" stroke-width="1"/>
<ellipse cx="458.3" cy="300.3" rx="7.4" ry="1.9" fill="#f4f4f4" stroke="#1c1c1c" stroke-width="0.9"/>
<g fill="none" stroke="#1c1c1c" stroke-width="1.3">
<path d="M447.5 348.5 V325.8 A11 3.7 0 0 1 469.5 325.8 V348.5 A11 3.6 0 0 1 447.5 348.5Z" fill="#fff"/>
<ellipse cx="458.5" cy="348.5" rx="11" ry="3.6" fill="#fff" stroke-width="1.1"/>
<ellipse cx="458.5" cy="349.4" rx="2.6" ry="0.9" fill="#fff" stroke-width="0.8"/>
<path d="M434.9 332.1L447.5 329.8M468.1 326.7L488.7 322.8" stroke-width="0.9"/>
<circle cx="434.9" cy="332.1" r="1.4" fill="#1c1c1c" stroke="none"/><circle cx="488.7" cy="322.8" r="1.4" fill="#1c1c1c" stroke="none"/>
</g>
<rect x="457.4" y="350.6" width="2.3" height="200" fill="#474747"/>
<ellipse cx="458.6" cy="550.9" rx="2.6" ry="1.1" fill="#fff" stroke="#1c1c1c" stroke-width="0.8"/>
<path d="M451.9 552.4 Q451.9 551.9 452.6 551.9 H464.4 Q465.05 551.9 465.05 552.4 V761.5 A6.57 3.3 0 0 1 451.9 761.5Z" fill="#1b1b1b"/>
<ellipse cx="458.5" cy="761.6" rx="4.9" ry="1.7" fill="#e8e8e8" stroke="#777" stroke-width="0.6"/>
<path d="M518.4 320V761" stroke="#262626" stroke-width="1.2" fill="none"/>
<path d="M518.4 314.4 L516.5 329.8 H520.3Z M518.4 766.2 L516.5 751 H520.3Z" fill="#1c1c1c"/>
<text transform="translate(523.3 487.8) rotate(90)" font-family="'Liberation Sans', sans-serif" font-size="13" textLength="125" lengthAdjust="spacingAndGlyphs" fill="#1c1c1c" stroke="#1c1c1c" stroke-width="0.6">min 70 cm ... max 180 cm</text>
<text x="440.7" y="788.5" font-family="'Liberation Sans', sans-serif" font-weight="bold" font-size="11" textLength="39" lengthAdjust="spacingAndGlyphs" fill="#1c1c1c">ø3,5 cm</text>
<path d="M424 796H494" stroke="#262626" stroke-width="1.1" fill="none"/>
<path d="M419.6 796 L435 794.2 V797.8Z M498.4 796 L483 794.2 V797.8Z" fill="#1c1c1c"/>
<g transform="translate(247 874)"><rect width="50" height="50" fill="#fff"/><path d="M1.00 0.00h3.00v1.00h-3.00zM6.00 0.00h3.00v1.00h-3.00zM10.00 0.00h2.00v1.00h-2.00zM14.00 0.00h2.00v1.00h-2.00zM17.00 0.00h5.00v1.00h-5.00zM23.00 0.00h1.00v1.00h-1.00zM26.00 0.00h2.00v1.00h-2.00zM29.00 0.00h2.00v1.00h-2.00zM32.00 0.00h2.00v1.00h-2.00zM35.00 0.00h2.00v1.00h-2.00zM39.00 0.00h1.00v1.00h-1.00zM41.00 0.00h2.00v1.00h-2.00zM44.00 0.00h2.00v1.00h-2.00zM1.00 1.00h1.00v1.00h-1.00zM3.00 1.00h1.00v1.00h-1.00zM6.00 1.00h3.00v1.00h-3.00zM10.00 1.00h2.00v1.00h-2.00zM14.00 1.00h1.00v1.00h-1.00zM16.00 1.00h1.00v1.00h-1.00zM18.00 1.00h2.00v1.00h-2.00zM21.00 1.00h2.00v1.00h-2.00zM26.00 1.00h3.00v1.00h-3.00zM33.00 1.00h1.00v1.00h-1.00zM35.00 1.00h2.00v1.00h-2.00zM39.00 1.00h1.00v1.00h-1.00zM44.00 1.00h2.00v1.00h-2.00zM48.00 1.00h1.00v1.00h-1.00zM2.00 2.00h1.00v1.00h-1.00zM4.00 2.00h3.00v1.00h-3.00zM8.00 2.00h6.00v1.00h-6.00zM16.00 2.00h2.00v1.00h-2.00zM21.00 2.00h3.00v1.00h-3.00zM26.00 2.00h3.00v1.00h-3.00zM30.00 2.00h6.00v1.00h-6.00zM40.00 2.00h1.00v1.00h-1.00zM43.00 2.00h1.00v1.00h-1.00zM2.00 3.00h2.00v1.00h-2.00zM6.00 3.00h1.00v1.00h-1.00zM8.00 3.00h1.00v1.00h-1.00zM11.00 3.00h7.00v1.00h-7.00zM20.00 3.00h6.00v1.00h-6.00zM29.00 3.00h4.00v1.00h-4.00zM34.00 3.00h1.00v1.00h-1.00zM36.00 3.00h1.00v1.00h-1.00zM43.00 3.00h1.00v1.00h-1.00zM46.00 3.00h2.00v1.00h-2.00zM2.00 4.00h1.00v1.00h-1.00zM5.00 4.00h1.00v1.00h-1.00zM8.00 4.00h2.00v1.00h-2.00zM13.00 4.00h4.00v1.00h-4.00zM18.00 4.00h3.00v1.00h-3.00zM24.00 4.00h2.00v1.00h-2.00zM28.00 4.00h1.00v1.00h-1.00zM30.00 4.00h2.00v1.00h-2.00zM33.00 4.00h1.00v1.00h-1.00zM38.00 4.00h4.00v1.00h-4.00zM43.00 4.00h4.00v1.00h-4.00zM48.00 4.00h2.00v1.00h-2.00zM0.00 5.00h1.00v1.00h-1.00zM3.00 5.00h1.00v1.00h-1.00zM8.00 5.00h2.00v1.00h-2.00zM12.00 5.00h1.00v1.00h-1.00zM14.00 5.00h4.00v1.00h-4.00zM19.00 5.00h2.00v1.00h-2.00zM23.00 5.00h2.00v1.00h-2.00zM27.00 5.00h3.00v1.00h-3.00zM31.00 5.00h1.00v1.00h-1.00zM38.00 5.00h8.00v1.00h-8.00zM48.00 5.00h1.00v1.00h-1.00zM1.00 6.00h1.00v1.00h-1.00zM3.00 6.00h1.00v1.00h-1.00zM6.00 6.00h2.00v1.00h-2.00zM18.00 6.00h1.00v1.00h-1.00zM23.00 6.00h8.00v1.00h-8.00zM32.00 6.00h1.00v1.00h-1.00zM36.00 6.00h1.00v1.00h-1.00zM38.00 6.00h2.00v1.00h-2.00zM41.00 6.00h2.00v1.00h-2.00zM44.00 6.00h5.00v1.00h-5.00zM0.00 7.00h3.00v1.00h-3.00zM5.00 7.00h4.00v1.00h-4.00zM11.00 7.00h2.00v1.00h-2.00zM17.00 7.00h1.00v1.00h-1.00zM19.00 7.00h2.00v1.00h-2.00zM23.00 7.00h7.00v1.00h-7.00zM33.00 7.00h1.00v1.00h-1.00zM35.00 7.00h6.00v1.00h-6.00zM42.00 7.00h1.00v1.00h-1.00zM44.00 7.00h1.00v1.00h-1.00zM47.00 7.00h3.00v1.00h-3.00zM0.00 8.00h2.00v1.00h-2.00zM3.00 8.00h5.00v1.00h-5.00zM11.00 8.00h9.00v1.00h-9.00zM22.00 8.00h1.00v1.00h-1.00zM25.00 8.00h1.00v1.00h-1.00zM27.00 8.00h1.00v1.00h-1.00zM34.00 8.00h1.00v1.00h-1.00zM36.00 8.00h2.00v1.00h-2.00zM46.00 8.00h2.00v1.00h-2.00zM49.00 8.00h1.00v1.00h-1.00zM0.00 9.00h10.00v1.00h-10.00zM11.00 9.00h3.00v1.00h-3.00zM15.00 9.00h1.00v1.00h-1.00zM17.00 9.00h3.00v1.00h-3.00zM21.00 9.00h3.00v1.00h-3.00zM26.00 9.00h2.00v1.00h-2.00zM30.00 9.00h6.00v1.00h-6.00zM37.00 9.00h1.00v1.00h-1.00zM39.00 9.00h1.00v1.00h-1.00zM41.00 9.00h1.00v1.00h-1.00zM43.00 9.00h3.00v1.00h-3.00zM48.00 9.00h1.00v1.00h-1.00zM6.00 10.00h1.00v1.00h-1.00zM9.00 10.00h1.00v1.00h-1.00zM13.00 10.00h1.00v1.00h-1.00zM18.00 10.00h2.00v1.00h-2.00zM22.00 10.00h3.00v1.00h-3.00zM27.00 10.00h2.00v1.00h-2.00zM30.00 10.00h2.00v1.00h-2.00zM34.00 10.00h1.00v1.00h-1.00zM36.00 10.00h1.00v1.00h-1.00zM38.00 10.00h2.00v1.00h-2.00zM41.00 10.00h1.00v1.00h-1.00zM44.00 10.00h2.00v1.00h-2.00zM0.00 11.00h1.00v1.00h-1.00zM4.00 11.00h1.00v1.00h-1.00zM7.00 11.00h3.00v1.00h-3.00zM12.00 11.00h1.00v1.00h-1.00zM17.00 11.00h3.00v1.00h-3.00zM22.00 11.00h3.00v1.00h-3.00zM28.00 11.00h1.00v1.00h-1.00zM30.00 11.00h3.00v1.00h-3.00zM34.00 11.00h2.00v1.00h-2.00zM37.00 11.00h2.00v1.00h-2.00zM40.00 11.00h6.00v1.00h-6.00zM47.00 11.00h1.00v1.00h-1.00zM49.00 11.00h1.00v1.00h-1.00zM0.00 12.00h2.00v1.00h-2.00zM3.00 12.00h3.00v1.00h-3.00zM7.00 12.00h3.00v1.00h-3.00zM14.00 12.00h3.00v1.00h-3.00zM23.00 12.00h6.00v1.00h-6.00zM31.00 12.00h1.00v1.00h-1.00zM33.00 12.00h2.00v1.00h-2.00zM40.00 12.00h1.00v1.00h-1.00zM42.00 12.00h1.00v1.00h-1.00zM44.00 12.00h3.00v1.00h-3.00zM48.00 12.00h1.00v1.00h-1.00zM0.00 13.00h2.00v1.00h-2.00zM8.00 13.00h2.00v1.00h-2.00zM12.00 13.00h4.00v1.00h-4.00zM17.00 13.00h1.00v1.00h-1.00zM22.00 13.00h4.00v1.00h-4.00zM27.00 13.00h5.00v1.00h-5.00zM33.00 13.00h2.00v1.00h-2.00zM38.00 13.00h4.00v1.00h-4.00zM46.00 13.00h4.00v1.00h-4.00zM0.00 14.00h1.00v1.00h-1.00zM2.00 14.00h2.00v1.00h-2.00zM5.00 14.00h3.00v1.00h-3.00zM10.00 14.00h2.00v1.00h-2.00zM18.00 14.00h2.00v1.00h-2.00zM24.00 14.00h1.00v1.00h-1.00zM26.00 14.00h4.00v1.00h-4.00zM32.00 14.00h3.00v1.00h-3.00zM36.00 14.00h4.00v1.00h-4.00zM41.00 14.00h1.00v1.00h-1.00zM43.00 14.00h5.00v1.00h-5.00zM0.00 15.00h2.00v1.00h-2.00zM3.00 15.00h5.00v1.00h-5.00zM9.00 15.00h4.00v1.00h-4.00zM14.00 15.00h1.00v1.00h-1.00zM17.00 15.00h3.00v1.00h-3.00zM21.00 15.00h2.00v1.00h-2.00zM31.00 15.00h1.00v1.00h-1.00zM34.00 15.00h6.00v1.00h-6.00zM43.00 15.00h7.00v1.00h-7.00zM3.00 16.00h4.00v1.00h-4.00zM11.00 16.00h2.00v1.00h-2.00zM15.00 16.00h1.00v1.00h-1.00zM17.00 16.00h2.00v1.00h-2.00zM20.00 16.00h8.00v1.00h-8.00zM31.00 16.00h2.00v1.00h-2.00zM34.00 16.00h1.00v1.00h-1.00zM36.00 16.00h1.00v1.00h-1.00zM38.00 16.00h2.00v1.00h-2.00zM41.00 16.00h3.00v1.00h-3.00zM45.00 16.00h1.00v1.00h-1.00zM48.00 16.00h2.00v1.00h-2.00zM4.00 17.00h2.00v1.00h-2.00zM7.00 17.00h1.00v1.00h-1.00zM10.00 17.00h1.00v1.00h-1.00zM17.00 17.00h1.00v1.00h-1.00zM20.00 17.00h2.00v1.00h-2.00zM23.00 17.00h1.00v1.00h-1.00zM26.00 17.00h1.00v1.00h-1.00zM29.00 17.00h2.00v1.00h-2.00zM36.00 17.00h3.00v1.00h-3.00zM41.00 17.00h2.00v1.00h-2.00zM44.00 17.00h1.00v1.00h-1.00zM48.00 17.00h2.00v1.00h-2.00zM0.00 18.00h2.00v1.00h-2.00zM3.00 18.00h1.00v1.00h-1.00zM9.00 18.00h1.00v1.00h-1.00zM11.00 18.00h2.00v1.00h-2.00zM16.00 18.00h4.00v1.00h-4.00zM23.00 18.00h3.00v1.00h-3.00zM29.00 18.00h1.00v1.00h-1.00zM36.00 18.00h2.00v1.00h-2.00zM42.00 18.00h2.00v1.00h-2.00zM46.00 18.00h2.00v1.00h-2.00zM0.00 19.00h1.00v1.00h-1.00zM2.00 19.00h5.00v1.00h-5.00zM8.00 19.00h1.00v1.00h-1.00zM11.00 19.00h9.00v1.00h-9.00zM23.00 19.00h3.00v1.00h-3.00zM30.00 19.00h2.00v1.00h-2.00zM33.00 19.00h1.00v1.00h-1.00zM37.00 19.00h1.00v1.00h-1.00zM42.00 19.00h2.00v1.00h-2.00zM46.00 19.00h4.00v1.00h-4.00zM0.00 20.00h2.00v1.00h-2.00zM4.00 20.00h2.00v1.00h-2.00zM11.00 20.00h1.00v1.00h-1.00zM15.00 20.00h9.00v1.00h-9.00zM25.00 20.00h2.00v1.00h-2.00zM28.00 20.00h2.00v1.00h-2.00zM36.00 20.00h1.00v1.00h-1.00zM38.00 20.00h1.00v1.00h-1.00zM41.00 20.00h3.00v1.00h-3.00zM45.00 20.00h5.00v1.00h-5.00zM0.00 21.00h2.00v1.00h-2.00zM4.00 21.00h2.00v1.00h-2.00zM7.00 21.00h1.00v1.00h-1.00zM10.00 21.00h1.00v1.00h-1.00zM15.00 21.00h3.00v1.00h-3.00zM19.00 21.00h1.00v1.00h-1.00zM21.00 21.00h2.00v1.00h-2.00zM25.00 21.00h1.00v1.00h-1.00zM27.00 21.00h3.00v1.00h-3.00zM32.00 21.00h2.00v1.00h-2.00zM39.00 21.00h1.00v1.00h-1.00zM42.00 21.00h6.00v1.00h-6.00zM49.00 21.00h1.00v1.00h-1.00zM2.00 22.00h1.00v1.00h-1.00zM8.00 22.00h2.00v1.00h-2.00zM14.00 22.00h3.00v1.00h-3.00zM20.00 22.00h1.00v1.00h-1.00zM22.00 22.00h2.00v1.00h-2.00zM28.00 22.00h8.00v1.00h-8.00zM39.00 22.00h4.00v1.00h-4.00zM46.00 22.00h2.00v1.00h-2.00zM0.00 23.00h1.00v1.00h-1.00zM2.00 23.00h2.00v1.00h-2.00zM5.00 23.00h1.00v1.00h-1.00zM8.00 23.00h2.00v1.00h-2.00zM11.00 23.00h1.00v1.00h-1.00zM14.00 23.00h1.00v1.00h-1.00zM17.00 23.00h2.00v1.00h-2.00zM20.00 23.00h1.00v1.00h-1.00zM23.00 23.00h1.00v1.00h-1.00zM27.00 23.00h3.00v1.00h-3.00zM32.00 23.00h2.00v1.00h-2.00zM35.00 23.00h1.00v1.00h-1.00zM37.00 23.00h1.00v1.00h-1.00zM40.00 23.00h2.00v1.00h-2.00zM44.00 23.00h1.00v1.00h-1.00zM46.00 23.00h1.00v1.00h-1.00zM48.00 23.00h1.00v1.00h-1.00zM0.00 24.00h3.00v1.00h-3.00zM6.00 24.00h1.00v1.00h-1.00zM8.00 24.00h1.00v1.00h-1.00zM10.00 24.00h2.00v1.00h-2.00zM13.00 24.00h6.00v1.00h-6.00zM20.00 24.00h1.00v1.00h-1.00zM22.00 24.00h2.00v1.00h-2.00zM28.00 24.00h1.00v1.00h-1.00zM30.00 24.00h1.00v1.00h-1.00zM32.00 24.00h2.00v1.00h-2.00zM36.00 24.00h1.00v1.00h-1.00zM39.00 24.00h2.00v1.00h-2.00zM42.00 24.00h2.00v1.00h-2.00zM45.00 24.00h1.00v1.00h-1.00zM48.00 24.00h1.00v1.00h-1.00zM0.00 25.00h2.00v1.00h-2.00zM5.00 25.00h2.00v1.00h-2.00zM8.00 25.00h2.00v1.00h-2.00zM13.00 25.00h3.00v1.00h-3.00zM17.00 25.00h7.00v1.00h-7.00zM26.00 25.00h4.00v1.00h-4.00zM31.00 25.00h3.00v1.00h-3.00zM37.00 25.00h1.00v1.00h-1.00zM39.00 25.00h1.00v1.00h-1.00zM41.00 25.00h2.00v1.00h-2.00zM44.00 25.00h2.00v1.00h-2.00zM48.00 25.00h1.00v1.00h-1.00zM0.00 26.00h3.00v1.00h-3.00zM4.00 26.00h4.00v1.00h-4.00zM12.00 26.00h2.00v1.00h-2.00zM15.00 26.00h2.00v1.00h-2.00zM18.00 26.00h4.00v1.00h-4.00zM24.00 26.00h1.00v1.00h-1.00zM27.00 26.00h3.00v1.00h-3.00zM32.00 26.00h2.00v1.00h-2.00zM35.00 26.00h1.00v1.00h-1.00zM38.00 26.00h1.00v1.00h-1.00zM44.00 26.00h4.00v1.00h-4.00zM49.00 26.00h1.00v1.00h-1.00zM0.00 27.00h2.00v1.00h-2.00zM5.00 27.00h1.00v1.00h-1.00zM9.00 27.00h1.00v1.00h-1.00zM11.00 27.00h3.00v1.00h-3.00zM17.00 27.00h2.00v1.00h-2.00zM20.00 27.00h1.00v1.00h-1.00zM22.00 27.00h2.00v1.00h-2.00zM25.00 27.00h1.00v1.00h-1.00zM29.00 27.00h2.00v1.00h-2.00zM32.00 27.00h2.00v1.00h-2.00zM36.00 27.00h1.00v1.00h-1.00zM39.00 27.00h1.00v1.00h-1.00zM42.00 27.00h4.00v1.00h-4.00zM47.00 27.00h3.00v1.00h-3.00zM0.00 28.00h1.00v1.00h-1.00zM3.00 28.00h3.00v1.00h-3.00zM7.00 28.00h4.00v1.00h-4.00zM12.00 28.00h5.00v1.00h-5.00zM19.00 28.00h3.00v1.00h-3.00zM26.00 28.00h1.00v1.00h-1.00zM29.00 28.00h1.00v1.00h-1.00zM31.00 28.00h1.00v1.00h-1.00zM35.00 28.00h1.00v1.00h-1.00zM43.00 28.00h2.00v1.00h-2.00zM46.00 28.00h2.00v1.00h-2.00zM49.00 28.00h1.00v1.00h-1.00zM1.00 29.00h1.00v1.00h-1.00zM7.00 29.00h7.00v1.00h-7.00zM15.00 29.00h3.00v1.00h-3.00zM24.00 29.00h4.00v1.00h-4.00zM31.00 29.00h2.00v1.00h-2.00zM38.00 29.00h2.00v1.00h-2.00zM42.00 29.00h1.00v1.00h-1.00zM45.00 29.00h1.00v1.00h-1.00zM4.00 30.00h3.00v1.00h-3.00zM10.00 30.00h1.00v1.00h-1.00zM14.00 30.00h2.00v1.00h-2.00zM18.00 30.00h1.00v1.00h-1.00zM20.00 30.00h2.00v1.00h-2.00zM24.00 30.00h2.00v1.00h-2.00zM28.00 30.00h1.00v1.00h-1.00zM30.00 30.00h1.00v1.00h-1.00zM32.00 30.00h1.00v1.00h-1.00zM37.00 30.00h2.00v1.00h-2.00zM40.00 30.00h3.00v1.00h-3.00zM44.00 30.00h6.00v1.00h-6.00zM1.00 31.00h2.00v1.00h-2.00zM4.00 31.00h1.00v1.00h-1.00zM6.00 31.00h2.00v1.00h-2.00zM9.00 31.00h4.00v1.00h-4.00zM14.00 31.00h2.00v1.00h-2.00zM18.00 31.00h4.00v1.00h-4.00zM24.00 31.00h2.00v1.00h-2.00zM28.00 31.00h2.00v1.00h-2.00zM31.00 31.00h2.00v1.00h-2.00zM34.00 31.00h1.00v1.00h-1.00zM36.00 31.00h1.00v1.00h-1.00zM38.00 31.00h4.00v1.00h-4.00zM45.00 31.00h2.00v1.00h-2.00zM48.00 31.00h2.00v1.00h-2.00zM0.00 32.00h4.00v1.00h-4.00zM6.00 32.00h1.00v1.00h-1.00zM8.00 32.00h1.00v1.00h-1.00zM15.00 32.00h1.00v1.00h-1.00zM17.00 32.00h4.00v1.00h-4.00zM23.00 32.00h2.00v1.00h-2.00zM29.00 32.00h1.00v1.00h-1.00zM32.00 32.00h3.00v1.00h-3.00zM38.00 32.00h2.00v1.00h-2.00zM43.00 32.00h1.00v1.00h-1.00zM48.00 32.00h2.00v1.00h-2.00zM0.00 33.00h1.00v1.00h-1.00zM2.00 33.00h1.00v1.00h-1.00zM5.00 33.00h1.00v1.00h-1.00zM9.00 33.00h1.00v1.00h-1.00zM13.00 33.00h2.00v1.00h-2.00zM18.00 33.00h6.00v1.00h-6.00zM25.00 33.00h1.00v1.00h-1.00zM28.00 33.00h1.00v1.00h-1.00zM31.00 33.00h4.00v1.00h-4.00zM36.00 33.00h2.00v1.00h-2.00zM39.00 33.00h1.00v1.00h-1.00zM42.00 33.00h1.00v1.00h-1.00zM44.00 33.00h1.00v1.00h-1.00zM48.00 33.00h2.00v1.00h-2.00zM1.00 34.00h1.00v1.00h-1.00zM3.00 34.00h1.00v1.00h-1.00zM5.00 34.00h4.00v1.00h-4.00zM10.00 34.00h7.00v1.00h-7.00zM19.00 34.00h1.00v1.00h-1.00zM21.00 34.00h1.00v1.00h-1.00zM26.00 34.00h1.00v1.00h-1.00zM28.00 34.00h6.00v1.00h-6.00zM39.00 34.00h2.00v1.00h-2.00zM42.00 34.00h1.00v1.00h-1.00zM44.00 34.00h2.00v1.00h-2.00zM47.00 34.00h1.00v1.00h-1.00zM49.00 34.00h1.00v1.00h-1.00zM3.00 35.00h1.00v1.00h-1.00zM5.00 35.00h2.00v1.00h-2.00zM8.00 35.00h1.00v1.00h-1.00zM10.00 35.00h1.00v1.00h-1.00zM12.00 35.00h6.00v1.00h-6.00zM19.00 35.00h16.00v1.00h-16.00zM42.00 35.00h4.00v1.00h-4.00zM48.00 35.00h1.00v1.00h-1.00zM3.00 36.00h3.00v1.00h-3.00zM7.00 36.00h1.00v1.00h-1.00zM9.00 36.00h1.00v1.00h-1.00zM12.00 36.00h3.00v1.00h-3.00zM18.00 36.00h8.00v1.00h-8.00zM28.00 36.00h4.00v1.00h-4.00zM34.00 36.00h2.00v1.00h-2.00zM37.00 36.00h3.00v1.00h-3.00zM44.00 36.00h2.00v1.00h-2.00zM47.00 36.00h3.00v1.00h-3.00zM0.00 37.00h3.00v1.00h-3.00zM4.00 37.00h2.00v1.00h-2.00zM8.00 37.00h2.00v1.00h-2.00zM12.00 37.00h3.00v1.00h-3.00zM18.00 37.00h8.00v1.00h-8.00zM28.00 37.00h5.00v1.00h-5.00zM37.00 37.00h1.00v1.00h-1.00zM40.00 37.00h1.00v1.00h-1.00zM45.00 37.00h1.00v1.00h-1.00zM48.00 37.00h2.00v1.00h-2.00zM0.00 38.00h2.00v1.00h-2.00zM3.00 38.00h6.00v1.00h-6.00zM12.00 38.00h4.00v1.00h-4.00zM17.00 38.00h2.00v1.00h-2.00zM21.00 38.00h1.00v1.00h-1.00zM28.00 38.00h3.00v1.00h-3.00zM35.00 38.00h1.00v1.00h-1.00zM38.00 38.00h5.00v1.00h-5.00zM46.00 38.00h1.00v1.00h-1.00zM48.00 38.00h1.00v1.00h-1.00zM0.00 39.00h2.00v1.00h-2.00zM3.00 39.00h2.00v1.00h-2.00zM7.00 39.00h10.00v1.00h-10.00zM19.00 39.00h1.00v1.00h-1.00zM23.00 39.00h1.00v1.00h-1.00zM28.00 39.00h2.00v1.00h-2.00zM34.00 39.00h2.00v1.00h-2.00zM38.00 39.00h4.00v1.00h-4.00zM44.00 39.00h1.00v1.00h-1.00zM47.00 39.00h1.00v1.00h-1.00zM1.00 40.00h9.00v1.00h-9.00zM11.00 40.00h1.00v1.00h-1.00zM15.00 40.00h2.00v1.00h-2.00zM18.00 40.00h2.00v1.00h-2.00zM21.00 40.00h2.00v1.00h-2.00zM25.00 40.00h2.00v1.00h-2.00zM28.00 40.00h1.00v1.00h-1.00zM30.00 40.00h2.00v1.00h-2.00zM34.00 40.00h3.00v1.00h-3.00zM39.00 40.00h1.00v1.00h-1.00zM42.00 40.00h5.00v1.00h-5.00zM48.00 40.00h2.00v1.00h-2.00zM1.00 41.00h2.00v1.00h-2.00zM4.00 41.00h2.00v1.00h-2.00zM7.00 41.00h1.00v1.00h-1.00zM9.00 41.00h3.00v1.00h-3.00zM18.00 41.00h1.00v1.00h-1.00zM21.00 41.00h1.00v1.00h-1.00zM24.00 41.00h1.00v1.00h-1.00zM26.00 41.00h1.00v1.00h-1.00zM28.00 41.00h4.00v1.00h-4.00zM33.00 41.00h1.00v1.00h-1.00zM36.00 41.00h2.00v1.00h-2.00zM41.00 41.00h3.00v1.00h-3.00zM46.00 41.00h4.00v1.00h-4.00zM0.00 42.00h3.00v1.00h-3.00zM4.00 42.00h6.00v1.00h-6.00zM12.00 42.00h1.00v1.00h-1.00zM15.00 42.00h4.00v1.00h-4.00zM22.00 42.00h2.00v1.00h-2.00zM25.00 42.00h1.00v1.00h-1.00zM31.00 42.00h1.00v1.00h-1.00zM34.00 42.00h1.00v1.00h-1.00zM36.00 42.00h3.00v1.00h-3.00zM40.00 42.00h1.00v1.00h-1.00zM44.00 42.00h1.00v1.00h-1.00zM47.00 42.00h2.00v1.00h-2.00zM1.00 43.00h7.00v1.00h-7.00zM9.00 43.00h9.00v1.00h-9.00zM20.00 43.00h3.00v1.00h-3.00zM24.00 43.00h1.00v1.00h-1.00zM29.00 43.00h6.00v1.00h-6.00zM36.00 43.00h3.00v1.00h-3.00zM40.00 43.00h1.00v1.00h-1.00zM45.00 43.00h1.00v1.00h-1.00zM49.00 43.00h1.00v1.00h-1.00zM1.00 44.00h1.00v1.00h-1.00zM4.00 44.00h5.00v1.00h-5.00zM11.00 44.00h3.00v1.00h-3.00zM18.00 44.00h4.00v1.00h-4.00zM23.00 44.00h1.00v1.00h-1.00zM27.00 44.00h3.00v1.00h-3.00zM32.00 44.00h2.00v1.00h-2.00zM35.00 44.00h5.00v1.00h-5.00zM41.00 44.00h3.00v1.00h-3.00zM48.00 44.00h2.00v1.00h-2.00zM2.00 45.00h2.00v1.00h-2.00zM6.00 45.00h2.00v1.00h-2.00zM11.00 45.00h2.00v1.00h-2.00zM14.00 45.00h1.00v1.00h-1.00zM16.00 45.00h1.00v1.00h-1.00zM19.00 45.00h3.00v1.00h-3.00zM28.00 45.00h3.00v1.00h-3.00zM32.00 45.00h2.00v1.00h-2.00zM35.00 45.00h6.00v1.00h-6.00zM42.00 45.00h2.00v1.00h-2.00zM48.00 45.00h2.00v1.00h-2.00zM0.00 46.00h2.00v1.00h-2.00zM4.00 46.00h1.00v1.00h-1.00zM11.00 46.00h1.00v1.00h-1.00zM13.00 46.00h1.00v1.00h-1.00zM17.00 46.00h5.00v1.00h-5.00zM23.00 46.00h1.00v1.00h-1.00zM26.00 46.00h4.00v1.00h-4.00zM32.00 46.00h1.00v1.00h-1.00zM34.00 46.00h3.00v1.00h-3.00zM38.00 46.00h1.00v1.00h-1.00zM40.00 46.00h2.00v1.00h-2.00zM44.00 46.00h3.00v1.00h-3.00zM48.00 46.00h1.00v1.00h-1.00zM5.00 47.00h1.00v1.00h-1.00zM9.00 47.00h1.00v1.00h-1.00zM12.00 47.00h2.00v1.00h-2.00zM15.00 47.00h3.00v1.00h-3.00zM20.00 47.00h2.00v1.00h-2.00zM23.00 47.00h2.00v1.00h-2.00zM26.00 47.00h3.00v1.00h-3.00zM31.00 47.00h1.00v1.00h-1.00zM33.00 47.00h3.00v1.00h-3.00zM46.00 47.00h1.00v1.00h-1.00zM48.00 47.00h1.00v1.00h-1.00zM5.00 48.00h1.00v1.00h-1.00zM9.00 48.00h1.00v1.00h-1.00zM11.00 48.00h2.00v1.00h-2.00zM19.00 48.00h1.00v1.00h-1.00zM21.00 48.00h1.00v1.00h-1.00zM23.00 48.00h1.00v1.00h-1.00zM25.00 48.00h2.00v1.00h-2.00zM28.00 48.00h2.00v1.00h-2.00zM31.00 48.00h2.00v1.00h-2.00zM35.00 48.00h2.00v1.00h-2.00zM38.00 48.00h2.00v1.00h-2.00zM42.00 48.00h1.00v1.00h-1.00zM44.00 48.00h2.00v1.00h-2.00zM47.00 48.00h2.00v1.00h-2.00zM0.00 49.00h2.00v1.00h-2.00zM5.00 49.00h2.00v1.00h-2.00zM9.00 49.00h2.00v1.00h-2.00zM13.00 49.00h1.00v1.00h-1.00zM15.00 49.00h1.00v1.00h-1.00zM17.00 49.00h1.00v1.00h-1.00zM22.00 49.00h1.00v1.00h-1.00zM27.00 49.00h1.00v1.00h-1.00zM29.00 49.00h2.00v1.00h-2.00zM34.00 49.00h1.00v1.00h-1.00zM41.00 49.00h2.00v1.00h-2.00zM44.00 49.00h2.00v1.00h-2.00zM47.00 49.00h1.00v1.00h-1.00zM49.00 49.00h1.00v1.00h-1.00z" fill="#1a1a1a"/>
<rect x="-1.00" y="-1.00" width="9.00" height="9.00" fill="#fff"/>
<rect x="0.50" y="0.50" width="6.00" height="6.00" fill="#fff" stroke="#1a1a1a" stroke-width="1.00"/>
<rect x="2.00" y="2.00" width="3.00" height="3.00" fill="#1a1a1a"/>
<rect x="42.00" y="-1.00" width="9.00" height="9.00" fill="#fff"/>
<rect x="43.50" y="0.50" width="6.00" height="6.00" fill="#fff" stroke="#1a1a1a" stroke-width="1.00"/>
<rect x="45.00" y="2.00" width="3.00" height="3.00" fill="#1a1a1a"/>
<rect x="-1.00" y="42.00" width="9.00" height="9.00" fill="#fff"/>
<rect x="0.50" y="43.50" width="6.00" height="6.00" fill="#fff" stroke="#1a1a1a" stroke-width="1.00"/>
<rect x="2.00" y="45.00" width="3.00" height="3.00" fill="#1a1a1a"/>
</g>
<text transform="translate(247.03 862.3) scale(1.0885 1)" font-family="'DejaVu Sans', 'Liberation Sans', sans-serif" font-weight="normal" font-size="12.3" fill="#1a1a1a" stroke="#1a1a1a" stroke-width="0.4">737011</text>
<g transform="translate(331 874)"><rect width="50" height="50" fill="#fff"/><path d="M0.00 0.00h2.00v1.00h-2.00zM6.00 0.00h4.00v1.00h-4.00zM13.00 0.00h1.00v1.00h-1.00zM15.00 0.00h1.00v1.00h-1.00zM20.00 0.00h1.00v1.00h-1.00zM22.00 0.00h2.00v1.00h-2.00zM25.00 0.00h2.00v1.00h-2.00zM31.00 0.00h1.00v1.00h-1.00zM36.00 0.00h1.00v1.00h-1.00zM42.00 0.00h2.00v1.00h-2.00zM46.00 0.00h4.00v1.00h-4.00zM0.00 1.00h2.00v1.00h-2.00zM6.00 1.00h1.00v1.00h-1.00zM8.00 1.00h2.00v1.00h-2.00zM12.00 1.00h1.00v1.00h-1.00zM14.00 1.00h2.00v1.00h-2.00zM18.00 1.00h1.00v1.00h-1.00zM20.00 1.00h1.00v1.00h-1.00zM22.00 1.00h1.00v1.00h-1.00zM24.00 1.00h2.00v1.00h-2.00zM28.00 1.00h1.00v1.00h-1.00zM31.00 1.00h1.00v1.00h-1.00zM33.00 1.00h1.00v1.00h-1.00zM35.00 1.00h1.00v1.00h-1.00zM39.00 1.00h1.00v1.00h-1.00zM41.00 1.00h3.00v1.00h-3.00zM45.00 1.00h4.00v1.00h-4.00zM0.00 2.00h4.00v1.00h-4.00zM5.00 2.00h2.00v1.00h-2.00zM8.00 2.00h2.00v1.00h-2.00zM12.00 2.00h2.00v1.00h-2.00zM16.00 2.00h4.00v1.00h-4.00zM23.00 2.00h1.00v1.00h-1.00zM25.00 2.00h1.00v1.00h-1.00zM28.00 2.00h3.00v1.00h-3.00zM32.00 2.00h4.00v1.00h-4.00zM38.00 2.00h1.00v1.00h-1.00zM42.00 2.00h2.00v1.00h-2.00zM46.00 2.00h1.00v1.00h-1.00zM49.00 2.00h1.00v1.00h-1.00zM0.00 3.00h4.00v1.00h-4.00zM6.00 3.00h1.00v1.00h-1.00zM8.00 3.00h2.00v1.00h-2.00zM13.00 3.00h1.00v1.00h-1.00zM15.00 3.00h2.00v1.00h-2.00zM19.00 3.00h1.00v1.00h-1.00zM26.00 3.00h3.00v1.00h-3.00zM31.00 3.00h1.00v1.00h-1.00zM34.00 3.00h3.00v1.00h-3.00zM38.00 3.00h2.00v1.00h-2.00zM43.00 3.00h1.00v1.00h-1.00zM48.00 3.00h2.00v1.00h-2.00zM1.00 4.00h5.00v1.00h-5.00zM7.00 4.00h1.00v1.00h-1.00zM16.00 4.00h3.00v1.00h-3.00zM21.00 4.00h2.00v1.00h-2.00zM24.00 4.00h3.00v1.00h-3.00zM28.00 4.00h4.00v1.00h-4.00zM35.00 4.00h2.00v1.00h-2.00zM38.00 4.00h2.00v1.00h-2.00zM41.00 4.00h1.00v1.00h-1.00zM44.00 4.00h2.00v1.00h-2.00zM48.00 4.00h2.00v1.00h-2.00zM1.00 5.00h1.00v1.00h-1.00zM3.00 5.00h1.00v1.00h-1.00zM7.00 5.00h3.00v1.00h-3.00zM12.00 5.00h4.00v1.00h-4.00zM17.00 5.00h1.00v1.00h-1.00zM19.00 5.00h1.00v1.00h-1.00zM23.00 5.00h3.00v1.00h-3.00zM27.00 5.00h1.00v1.00h-1.00zM29.00 5.00h2.00v1.00h-2.00zM33.00 5.00h2.00v1.00h-2.00zM37.00 5.00h5.00v1.00h-5.00zM43.00 5.00h1.00v1.00h-1.00zM45.00 5.00h1.00v1.00h-1.00zM48.00 5.00h2.00v1.00h-2.00zM1.00 6.00h1.00v1.00h-1.00zM3.00 6.00h1.00v1.00h-1.00zM7.00 6.00h3.00v1.00h-3.00zM11.00 6.00h4.00v1.00h-4.00zM20.00 6.00h2.00v1.00h-2.00zM23.00 6.00h1.00v1.00h-1.00zM26.00 6.00h2.00v1.00h-2.00zM30.00 6.00h1.00v1.00h-1.00zM32.00 6.00h5.00v1.00h-5.00zM38.00 6.00h1.00v1.00h-1.00zM40.00 6.00h3.00v1.00h-3.00zM44.00 6.00h1.00v1.00h-1.00zM46.00 6.00h3.00v1.00h-3.00zM0.00 7.00h4.00v1.00h-4.00zM5.00 7.00h1.00v1.00h-1.00zM7.00 7.00h1.00v1.00h-1.00zM9.00 7.00h1.00v1.00h-1.00zM12.00 7.00h4.00v1.00h-4.00zM18.00 7.00h4.00v1.00h-4.00zM23.00 7.00h5.00v1.00h-5.00zM29.00 7.00h9.00v1.00h-9.00zM40.00 7.00h3.00v1.00h-3.00zM44.00 7.00h6.00v1.00h-6.00zM4.00 8.00h6.00v1.00h-6.00zM12.00 8.00h5.00v1.00h-5.00zM20.00 8.00h2.00v1.00h-2.00zM29.00 8.00h5.00v1.00h-5.00zM36.00 8.00h2.00v1.00h-2.00zM39.00 8.00h3.00v1.00h-3.00zM47.00 8.00h3.00v1.00h-3.00zM4.00 9.00h4.00v1.00h-4.00zM10.00 9.00h1.00v1.00h-1.00zM12.00 9.00h1.00v1.00h-1.00zM15.00 9.00h1.00v1.00h-1.00zM20.00 9.00h3.00v1.00h-3.00zM24.00 9.00h1.00v1.00h-1.00zM27.00 9.00h4.00v1.00h-4.00zM34.00 9.00h1.00v1.00h-1.00zM36.00 9.00h1.00v1.00h-1.00zM39.00 9.00h3.00v1.00h-3.00zM46.00 9.00h4.00v1.00h-4.00zM0.00 10.00h3.00v1.00h-3.00zM4.00 10.00h1.00v1.00h-1.00zM10.00 10.00h2.00v1.00h-2.00zM15.00 10.00h1.00v1.00h-1.00zM18.00 10.00h5.00v1.00h-5.00zM24.00 10.00h3.00v1.00h-3.00zM29.00 10.00h3.00v1.00h-3.00zM33.00 10.00h1.00v1.00h-1.00zM36.00 10.00h1.00v1.00h-1.00zM43.00 10.00h1.00v1.00h-1.00zM45.00 10.00h5.00v1.00h-5.00zM0.00 11.00h4.00v1.00h-4.00zM5.00 11.00h1.00v1.00h-1.00zM9.00 11.00h3.00v1.00h-3.00zM14.00 11.00h4.00v1.00h-4.00zM19.00 11.00h1.00v1.00h-1.00zM21.00 11.00h1.00v1.00h-1.00zM23.00 11.00h5.00v1.00h-5.00zM29.00 11.00h4.00v1.00h-4.00zM39.00 11.00h4.00v1.00h-4.00zM44.00 11.00h1.00v1.00h-1.00zM46.00 11.00h4.00v1.00h-4.00zM2.00 12.00h1.00v1.00h-1.00zM4.00 12.00h2.00v1.00h-2.00zM8.00 12.00h3.00v1.00h-3.00zM13.00 12.00h5.00v1.00h-5.00zM19.00 12.00h1.00v1.00h-1.00zM25.00 12.00h3.00v1.00h-3.00zM38.00 12.00h2.00v1.00h-2.00zM41.00 12.00h1.00v1.00h-1.00zM43.00 12.00h1.00v1.00h-1.00zM46.00 12.00h2.00v1.00h-2.00zM1.00 13.00h2.00v1.00h-2.00zM4.00 13.00h2.00v1.00h-2.00zM8.00 13.00h2.00v1.00h-2.00zM11.00 13.00h1.00v1.00h-1.00zM16.00 13.00h2.00v1.00h-2.00zM25.00 13.00h2.00v1.00h-2.00zM28.00 13.00h2.00v1.00h-2.00zM32.00 13.00h2.00v1.00h-2.00zM37.00 13.00h1.00v1.00h-1.00zM41.00 13.00h1.00v1.00h-1.00zM44.00 13.00h1.00v1.00h-1.00zM48.00 13.00h2.00v1.00h-2.00zM0.00 14.00h5.00v1.00h-5.00zM14.00 14.00h1.00v1.00h-1.00zM19.00 14.00h3.00v1.00h-3.00zM24.00 14.00h2.00v1.00h-2.00zM29.00 14.00h1.00v1.00h-1.00zM32.00 14.00h3.00v1.00h-3.00zM37.00 14.00h1.00v1.00h-1.00zM41.00 14.00h8.00v1.00h-8.00zM0.00 15.00h1.00v1.00h-1.00zM2.00 15.00h2.00v1.00h-2.00zM5.00 15.00h1.00v1.00h-1.00zM9.00 15.00h3.00v1.00h-3.00zM13.00 15.00h3.00v1.00h-3.00zM20.00 15.00h2.00v1.00h-2.00zM25.00 15.00h1.00v1.00h-1.00zM29.00 15.00h2.00v1.00h-2.00zM32.00 15.00h1.00v1.00h-1.00zM34.00 15.00h2.00v1.00h-2.00zM38.00 15.00h2.00v1.00h-2.00zM42.00 15.00h8.00v1.00h-8.00zM0.00 16.00h2.00v1.00h-2.00zM3.00 16.00h1.00v1.00h-1.00zM8.00 16.00h2.00v1.00h-2.00zM12.00 16.00h1.00v1.00h-1.00zM15.00 16.00h2.00v1.00h-2.00zM18.00 16.00h3.00v1.00h-3.00zM24.00 16.00h4.00v1.00h-4.00zM30.00 16.00h1.00v1.00h-1.00zM32.00 16.00h2.00v1.00h-2.00zM38.00 16.00h2.00v1.00h-2.00zM41.00 16.00h9.00v1.00h-9.00zM1.00 17.00h3.00v1.00h-3.00zM5.00 17.00h1.00v1.00h-1.00zM8.00 17.00h2.00v1.00h-2.00zM12.00 17.00h1.00v1.00h-1.00zM16.00 17.00h4.00v1.00h-4.00zM22.00 17.00h1.00v1.00h-1.00zM26.00 17.00h3.00v1.00h-3.00zM31.00 17.00h4.00v1.00h-4.00zM37.00 17.00h1.00v1.00h-1.00zM39.00 17.00h1.00v1.00h-1.00zM41.00 17.00h1.00v1.00h-1.00zM43.00 17.00h2.00v1.00h-2.00zM46.00 17.00h3.00v1.00h-3.00zM0.00 18.00h1.00v1.00h-1.00zM3.00 18.00h1.00v1.00h-1.00zM7.00 18.00h4.00v1.00h-4.00zM14.00 18.00h3.00v1.00h-3.00zM18.00 18.00h1.00v1.00h-1.00zM23.00 18.00h1.00v1.00h-1.00zM25.00 18.00h3.00v1.00h-3.00zM32.00 18.00h1.00v1.00h-1.00zM34.00 18.00h6.00v1.00h-6.00zM44.00 18.00h6.00v1.00h-6.00zM2.00 19.00h2.00v1.00h-2.00zM8.00 19.00h1.00v1.00h-1.00zM14.00 19.00h2.00v1.00h-2.00zM17.00 19.00h2.00v1.00h-2.00zM22.00 19.00h2.00v1.00h-2.00zM25.00 19.00h1.00v1.00h-1.00zM28.00 19.00h2.00v1.00h-2.00zM32.00 19.00h5.00v1.00h-5.00zM38.00 19.00h8.00v1.00h-8.00zM49.00 19.00h1.00v1.00h-1.00zM2.00 20.00h1.00v1.00h-1.00zM9.00 20.00h2.00v1.00h-2.00zM13.00 20.00h5.00v1.00h-5.00zM19.00 20.00h2.00v1.00h-2.00zM22.00 20.00h2.00v1.00h-2.00zM26.00 20.00h2.00v1.00h-2.00zM29.00 20.00h1.00v1.00h-1.00zM42.00 20.00h1.00v1.00h-1.00zM44.00 20.00h1.00v1.00h-1.00zM46.00 20.00h1.00v1.00h-1.00zM49.00 20.00h1.00v1.00h-1.00zM3.00 21.00h1.00v1.00h-1.00zM7.00 21.00h1.00v1.00h-1.00zM10.00 21.00h8.00v1.00h-8.00zM19.00 21.00h1.00v1.00h-1.00zM22.00 21.00h4.00v1.00h-4.00zM27.00 21.00h1.00v1.00h-1.00zM31.00 21.00h3.00v1.00h-3.00zM35.00 21.00h3.00v1.00h-3.00zM40.00 21.00h1.00v1.00h-1.00zM42.00 21.00h2.00v1.00h-2.00zM48.00 21.00h1.00v1.00h-1.00zM1.00 22.00h1.00v1.00h-1.00zM4.00 22.00h3.00v1.00h-3.00zM14.00 22.00h2.00v1.00h-2.00zM17.00 22.00h2.00v1.00h-2.00zM21.00 22.00h2.00v1.00h-2.00zM28.00 22.00h2.00v1.00h-2.00zM33.00 22.00h1.00v1.00h-1.00zM38.00 22.00h1.00v1.00h-1.00zM40.00 22.00h2.00v1.00h-2.00zM45.00 22.00h1.00v1.00h-1.00zM47.00 22.00h1.00v1.00h-1.00zM2.00 23.00h1.00v1.00h-1.00zM8.00 23.00h1.00v1.00h-1.00zM14.00 23.00h2.00v1.00h-2.00zM18.00 23.00h2.00v1.00h-2.00zM25.00 23.00h2.00v1.00h-2.00zM28.00 23.00h1.00v1.00h-1.00zM32.00 23.00h1.00v1.00h-1.00zM36.00 23.00h1.00v1.00h-1.00zM39.00 23.00h3.00v1.00h-3.00zM45.00 23.00h5.00v1.00h-5.00zM1.00 24.00h1.00v1.00h-1.00zM4.00 24.00h5.00v1.00h-5.00zM10.00 24.00h2.00v1.00h-2.00zM14.00 24.00h4.00v1.00h-4.00zM19.00 24.00h1.00v1.00h-1.00zM21.00 24.00h1.00v1.00h-1.00zM23.00 24.00h1.00v1.00h-1.00zM25.00 24.00h1.00v1.00h-1.00zM29.00 24.00h1.00v1.00h-1.00zM31.00 24.00h2.00v1.00h-2.00zM34.00 24.00h2.00v1.00h-2.00zM37.00 24.00h2.00v1.00h-2.00zM40.00 24.00h1.00v1.00h-1.00zM43.00 24.00h1.00v1.00h-1.00zM47.00 24.00h1.00v1.00h-1.00zM1.00 25.00h1.00v1.00h-1.00zM3.00 25.00h4.00v1.00h-4.00zM10.00 25.00h2.00v1.00h-2.00zM13.00 25.00h6.00v1.00h-6.00zM21.00 25.00h4.00v1.00h-4.00zM33.00 25.00h3.00v1.00h-3.00zM38.00 25.00h4.00v1.00h-4.00zM45.00 25.00h1.00v1.00h-1.00zM47.00 25.00h1.00v1.00h-1.00zM2.00 26.00h2.00v1.00h-2.00zM5.00 26.00h3.00v1.00h-3.00zM9.00 26.00h1.00v1.00h-1.00zM12.00 26.00h2.00v1.00h-2.00zM16.00 26.00h2.00v1.00h-2.00zM22.00 26.00h3.00v1.00h-3.00zM26.00 26.00h2.00v1.00h-2.00zM30.00 26.00h2.00v1.00h-2.00zM33.00 26.00h1.00v1.00h-1.00zM36.00 26.00h2.00v1.00h-2.00zM42.00 26.00h1.00v1.00h-1.00zM45.00 26.00h2.00v1.00h-2.00zM49.00 26.00h1.00v1.00h-1.00zM2.00 27.00h7.00v1.00h-7.00zM12.00 27.00h1.00v1.00h-1.00zM14.00 27.00h1.00v1.00h-1.00zM16.00 27.00h1.00v1.00h-1.00zM20.00 27.00h1.00v1.00h-1.00zM22.00 27.00h1.00v1.00h-1.00zM25.00 27.00h1.00v1.00h-1.00zM27.00 27.00h1.00v1.00h-1.00zM29.00 27.00h3.00v1.00h-3.00zM34.00 27.00h3.00v1.00h-3.00zM38.00 27.00h4.00v1.00h-4.00zM43.00 27.00h1.00v1.00h-1.00zM46.00 27.00h2.00v1.00h-2.00zM2.00 28.00h9.00v1.00h-9.00zM13.00 28.00h1.00v1.00h-1.00zM16.00 28.00h4.00v1.00h-4.00zM24.00 28.00h1.00v1.00h-1.00zM26.00 28.00h3.00v1.00h-3.00zM30.00 28.00h1.00v1.00h-1.00zM32.00 28.00h4.00v1.00h-4.00zM38.00 28.00h5.00v1.00h-5.00zM44.00 28.00h2.00v1.00h-2.00zM49.00 28.00h1.00v1.00h-1.00zM3.00 29.00h1.00v1.00h-1.00zM5.00 29.00h3.00v1.00h-3.00zM10.00 29.00h2.00v1.00h-2.00zM15.00 29.00h1.00v1.00h-1.00zM20.00 29.00h5.00v1.00h-5.00zM26.00 29.00h2.00v1.00h-2.00zM30.00 29.00h6.00v1.00h-6.00zM38.00 29.00h1.00v1.00h-1.00zM40.00 29.00h2.00v1.00h-2.00zM44.00 29.00h2.00v1.00h-2.00zM48.00 29.00h2.00v1.00h-2.00zM1.00 30.00h3.00v1.00h-3.00zM8.00 30.00h3.00v1.00h-3.00zM13.00 30.00h5.00v1.00h-5.00zM20.00 30.00h1.00v1.00h-1.00zM30.00 30.00h4.00v1.00h-4.00zM38.00 30.00h9.00v1.00h-9.00zM0.00 31.00h4.00v1.00h-4.00zM5.00 31.00h3.00v1.00h-3.00zM9.00 31.00h9.00v1.00h-9.00zM21.00 31.00h1.00v1.00h-1.00zM23.00 31.00h2.00v1.00h-2.00zM26.00 31.00h1.00v1.00h-1.00zM28.00 31.00h2.00v1.00h-2.00zM31.00 31.00h2.00v1.00h-2.00zM38.00 31.00h5.00v1.00h-5.00zM44.00 31.00h1.00v1.00h-1.00zM0.00 32.00h2.00v1.00h-2.00zM4.00 32.00h2.00v1.00h-2.00zM9.00 32.00h3.00v1.00h-3.00zM14.00 32.00h3.00v1.00h-3.00zM20.00 32.00h4.00v1.00h-4.00zM26.00 32.00h1.00v1.00h-1.00zM30.00 32.00h2.00v1.00h-2.00zM33.00 32.00h1.00v1.00h-1.00zM36.00 32.00h2.00v1.00h-2.00zM39.00 32.00h1.00v1.00h-1.00zM41.00 32.00h6.00v1.00h-6.00zM1.00 33.00h2.00v1.00h-2.00zM6.00 33.00h2.00v1.00h-2.00zM10.00 33.00h2.00v1.00h-2.00zM14.00 33.00h1.00v1.00h-1.00zM16.00 33.00h3.00v1.00h-3.00zM21.00 33.00h4.00v1.00h-4.00zM30.00 33.00h2.00v1.00h-2.00zM33.00 33.00h1.00v1.00h-1.00zM35.00 33.00h3.00v1.00h-3.00zM40.00 33.00h3.00v1.00h-3.00zM44.00 33.00h3.00v1.00h-3.00zM48.00 33.00h2.00v1.00h-2.00zM2.00 34.00h4.00v1.00h-4.00zM7.00 34.00h1.00v1.00h-1.00zM14.00 34.00h4.00v1.00h-4.00zM20.00 34.00h2.00v1.00h-2.00zM24.00 34.00h1.00v1.00h-1.00zM26.00 34.00h1.00v1.00h-1.00zM29.00 34.00h3.00v1.00h-3.00zM35.00 34.00h1.00v1.00h-1.00zM37.00 34.00h1.00v1.00h-1.00zM40.00 34.00h1.00v1.00h-1.00zM42.00 34.00h3.00v1.00h-3.00zM46.00 34.00h4.00v1.00h-4.00zM0.00 35.00h1.00v1.00h-1.00zM2.00 35.00h6.00v1.00h-6.00zM10.00 35.00h2.00v1.00h-2.00zM13.00 35.00h2.00v1.00h-2.00zM16.00 35.00h2.00v1.00h-2.00zM20.00 35.00h1.00v1.00h-1.00zM23.00 35.00h1.00v1.00h-1.00zM26.00 35.00h7.00v1.00h-7.00zM35.00 35.00h1.00v1.00h-1.00zM40.00 35.00h3.00v1.00h-3.00zM46.00 35.00h4.00v1.00h-4.00zM0.00 36.00h1.00v1.00h-1.00zM3.00 36.00h1.00v1.00h-1.00zM6.00 36.00h2.00v1.00h-2.00zM14.00 36.00h1.00v1.00h-1.00zM19.00 36.00h1.00v1.00h-1.00zM21.00 36.00h1.00v1.00h-1.00zM24.00 36.00h2.00v1.00h-2.00zM30.00 36.00h1.00v1.00h-1.00zM32.00 36.00h1.00v1.00h-1.00zM34.00 36.00h1.00v1.00h-1.00zM38.00 36.00h2.00v1.00h-2.00zM41.00 36.00h1.00v1.00h-1.00zM44.00 36.00h1.00v1.00h-1.00zM46.00 36.00h2.00v1.00h-2.00zM0.00 37.00h1.00v1.00h-1.00zM2.00 37.00h1.00v1.00h-1.00zM8.00 37.00h1.00v1.00h-1.00zM13.00 37.00h1.00v1.00h-1.00zM21.00 37.00h2.00v1.00h-2.00zM24.00 37.00h3.00v1.00h-3.00zM28.00 37.00h1.00v1.00h-1.00zM32.00 37.00h4.00v1.00h-4.00zM38.00 37.00h1.00v1.00h-1.00zM41.00 37.00h1.00v1.00h-1.00zM47.00 37.00h1.00v1.00h-1.00zM1.00 38.00h1.00v1.00h-1.00zM3.00 38.00h6.00v1.00h-6.00zM11.00 38.00h1.00v1.00h-1.00zM14.00 38.00h3.00v1.00h-3.00zM18.00 38.00h1.00v1.00h-1.00zM21.00 38.00h1.00v1.00h-1.00zM23.00 38.00h1.00v1.00h-1.00zM25.00 38.00h1.00v1.00h-1.00zM27.00 38.00h1.00v1.00h-1.00zM32.00 38.00h1.00v1.00h-1.00zM34.00 38.00h2.00v1.00h-2.00zM44.00 38.00h6.00v1.00h-6.00zM0.00 39.00h2.00v1.00h-2.00zM3.00 39.00h2.00v1.00h-2.00zM6.00 39.00h2.00v1.00h-2.00zM9.00 39.00h1.00v1.00h-1.00zM13.00 39.00h1.00v1.00h-1.00zM15.00 39.00h1.00v1.00h-1.00zM18.00 39.00h2.00v1.00h-2.00zM25.00 39.00h4.00v1.00h-4.00zM30.00 39.00h1.00v1.00h-1.00zM33.00 39.00h1.00v1.00h-1.00zM35.00 39.00h5.00v1.00h-5.00zM41.00 39.00h2.00v1.00h-2.00zM44.00 39.00h4.00v1.00h-4.00zM49.00 39.00h1.00v1.00h-1.00zM0.00 40.00h2.00v1.00h-2.00zM4.00 40.00h2.00v1.00h-2.00zM7.00 40.00h1.00v1.00h-1.00zM9.00 40.00h1.00v1.00h-1.00zM15.00 40.00h2.00v1.00h-2.00zM20.00 40.00h2.00v1.00h-2.00zM23.00 40.00h3.00v1.00h-3.00zM28.00 40.00h2.00v1.00h-2.00zM32.00 40.00h7.00v1.00h-7.00zM42.00 40.00h1.00v1.00h-1.00zM46.00 40.00h2.00v1.00h-2.00zM49.00 40.00h1.00v1.00h-1.00zM0.00 41.00h6.00v1.00h-6.00zM9.00 41.00h1.00v1.00h-1.00zM11.00 41.00h3.00v1.00h-3.00zM15.00 41.00h1.00v1.00h-1.00zM18.00 41.00h1.00v1.00h-1.00zM21.00 41.00h4.00v1.00h-4.00zM32.00 41.00h1.00v1.00h-1.00zM34.00 41.00h4.00v1.00h-4.00zM42.00 41.00h2.00v1.00h-2.00zM46.00 41.00h4.00v1.00h-4.00zM0.00 42.00h4.00v1.00h-4.00zM5.00 42.00h1.00v1.00h-1.00zM7.00 42.00h2.00v1.00h-2.00zM14.00 42.00h3.00v1.00h-3.00zM18.00 42.00h1.00v1.00h-1.00zM21.00 42.00h1.00v1.00h-1.00zM30.00 42.00h1.00v1.00h-1.00zM33.00 42.00h1.00v1.00h-1.00zM35.00 42.00h4.00v1.00h-4.00zM40.00 42.00h2.00v1.00h-2.00zM43.00 42.00h2.00v1.00h-2.00zM46.00 42.00h4.00v1.00h-4.00zM1.00 43.00h1.00v1.00h-1.00zM3.00 43.00h1.00v1.00h-1.00zM6.00 43.00h1.00v1.00h-1.00zM8.00 43.00h2.00v1.00h-2.00zM12.00 43.00h2.00v1.00h-2.00zM15.00 43.00h1.00v1.00h-1.00zM17.00 43.00h6.00v1.00h-6.00zM28.00 43.00h1.00v1.00h-1.00zM30.00 43.00h2.00v1.00h-2.00zM36.00 43.00h2.00v1.00h-2.00zM42.00 43.00h5.00v1.00h-5.00zM49.00 43.00h1.00v1.00h-1.00zM3.00 44.00h1.00v1.00h-1.00zM7.00 44.00h2.00v1.00h-2.00zM10.00 44.00h2.00v1.00h-2.00zM13.00 44.00h4.00v1.00h-4.00zM18.00 44.00h1.00v1.00h-1.00zM22.00 44.00h5.00v1.00h-5.00zM29.00 44.00h2.00v1.00h-2.00zM32.00 44.00h5.00v1.00h-5.00zM38.00 44.00h1.00v1.00h-1.00zM41.00 44.00h2.00v1.00h-2.00zM45.00 44.00h5.00v1.00h-5.00zM2.00 45.00h1.00v1.00h-1.00zM8.00 45.00h1.00v1.00h-1.00zM11.00 45.00h1.00v1.00h-1.00zM14.00 45.00h3.00v1.00h-3.00zM25.00 45.00h1.00v1.00h-1.00zM27.00 45.00h1.00v1.00h-1.00zM29.00 45.00h3.00v1.00h-3.00zM34.00 45.00h2.00v1.00h-2.00zM42.00 45.00h3.00v1.00h-3.00zM46.00 45.00h2.00v1.00h-2.00zM49.00 45.00h1.00v1.00h-1.00zM1.00 46.00h1.00v1.00h-1.00zM3.00 46.00h2.00v1.00h-2.00zM7.00 46.00h2.00v1.00h-2.00zM12.00 46.00h1.00v1.00h-1.00zM16.00 46.00h1.00v1.00h-1.00zM19.00 46.00h2.00v1.00h-2.00zM24.00 46.00h1.00v1.00h-1.00zM28.00 46.00h7.00v1.00h-7.00zM38.00 46.00h3.00v1.00h-3.00zM42.00 46.00h4.00v1.00h-4.00zM1.00 47.00h2.00v1.00h-2.00zM6.00 47.00h2.00v1.00h-2.00zM10.00 47.00h2.00v1.00h-2.00zM14.00 47.00h8.00v1.00h-8.00zM23.00 47.00h1.00v1.00h-1.00zM25.00 47.00h1.00v1.00h-1.00zM28.00 47.00h7.00v1.00h-7.00zM38.00 47.00h8.00v1.00h-8.00zM47.00 47.00h1.00v1.00h-1.00zM2.00 48.00h6.00v1.00h-6.00zM12.00 48.00h3.00v1.00h-3.00zM20.00 48.00h7.00v1.00h-7.00zM30.00 48.00h4.00v1.00h-4.00zM35.00 48.00h2.00v1.00h-2.00zM38.00 48.00h2.00v1.00h-2.00zM42.00 48.00h1.00v1.00h-1.00zM45.00 48.00h5.00v1.00h-5.00zM0.00 49.00h3.00v1.00h-3.00zM4.00 49.00h2.00v1.00h-2.00zM7.00 49.00h1.00v1.00h-1.00zM12.00 49.00h2.00v1.00h-2.00zM15.00 49.00h1.00v1.00h-1.00zM17.00 49.00h1.00v1.00h-1.00zM22.00 49.00h1.00v1.00h-1.00zM24.00 49.00h5.00v1.00h-5.00zM31.00 49.00h1.00v1.00h-1.00zM39.00 49.00h1.00v1.00h-1.00zM44.00 49.00h2.00v1.00h-2.00zM49.00 49.00h1.00v1.00h-1.00z" fill="#1a1a1a"/>
<rect x="-1.00" y="-1.00" width="9.00" height="9.00" fill="#fff"/>
<rect x="0.50" y="0.50" width="6.00" height="6.00" fill="#fff" stroke="#1a1a1a" stroke-width="1.00"/>
<rect x="2.00" y="2.00" width="3.00" height="3.00" fill="#1a1a1a"/>
<rect x="42.00" y="-1.00" width="9.00" height="9.00" fill="#fff"/>
<rect x="43.50" y="0.50" width="6.00" height="6.00" fill="#fff" stroke="#1a1a1a" stroke-width="1.00"/>
<rect x="45.00" y="2.00" width="3.00" height="3.00" fill="#1a1a1a"/>
<rect x="-1.00" y="42.00" width="9.00" height="9.00" fill="#fff"/>
<rect x="0.50" y="43.50" width="6.00" height="6.00" fill="#fff" stroke="#1a1a1a" stroke-width="1.00"/>
<rect x="2.00" y="45.00" width="3.00" height="3.00" fill="#1a1a1a"/>
</g>
<text transform="translate(330.84 862.3) scale(1.0796 1)" font-family="'DejaVu Sans', 'Liberation Sans', sans-serif" font-weight="normal" font-size="12.3" fill="#1a1a1a" stroke="#1a1a1a" stroke-width="0.4">737016</text>
<g transform="translate(414 874)"><rect width="50" height="50" fill="#fff"/><path d="M1.00 0.00h2.00v1.00h-2.00zM6.00 0.00h1.00v1.00h-1.00zM9.00 0.00h1.00v1.00h-1.00zM11.00 0.00h3.00v1.00h-3.00zM15.00 0.00h1.00v1.00h-1.00zM17.00 0.00h2.00v1.00h-2.00zM21.00 0.00h1.00v1.00h-1.00zM24.00 0.00h1.00v1.00h-1.00zM26.00 0.00h4.00v1.00h-4.00zM32.00 0.00h2.00v1.00h-2.00zM37.00 0.00h1.00v1.00h-1.00zM40.00 0.00h1.00v1.00h-1.00zM42.00 0.00h2.00v1.00h-2.00zM46.00 0.00h4.00v1.00h-4.00zM0.00 1.00h2.00v1.00h-2.00zM6.00 1.00h1.00v1.00h-1.00zM9.00 1.00h5.00v1.00h-5.00zM15.00 1.00h1.00v1.00h-1.00zM18.00 1.00h1.00v1.00h-1.00zM20.00 1.00h1.00v1.00h-1.00zM24.00 1.00h1.00v1.00h-1.00zM26.00 1.00h4.00v1.00h-4.00zM32.00 1.00h2.00v1.00h-2.00zM36.00 1.00h2.00v1.00h-2.00zM39.00 1.00h2.00v1.00h-2.00zM42.00 1.00h1.00v1.00h-1.00zM46.00 1.00h1.00v1.00h-1.00zM49.00 1.00h1.00v1.00h-1.00zM0.00 2.00h5.00v1.00h-5.00zM6.00 2.00h1.00v1.00h-1.00zM8.00 2.00h2.00v1.00h-2.00zM11.00 2.00h1.00v1.00h-1.00zM13.00 2.00h4.00v1.00h-4.00zM19.00 2.00h7.00v1.00h-7.00zM28.00 2.00h4.00v1.00h-4.00zM33.00 2.00h1.00v1.00h-1.00zM36.00 2.00h3.00v1.00h-3.00zM41.00 2.00h3.00v1.00h-3.00zM47.00 2.00h1.00v1.00h-1.00zM49.00 2.00h1.00v1.00h-1.00zM0.00 3.00h2.00v1.00h-2.00zM3.00 3.00h1.00v1.00h-1.00zM8.00 3.00h2.00v1.00h-2.00zM11.00 3.00h2.00v1.00h-2.00zM15.00 3.00h2.00v1.00h-2.00zM18.00 3.00h1.00v1.00h-1.00zM20.00 3.00h1.00v1.00h-1.00zM23.00 3.00h1.00v1.00h-1.00zM28.00 3.00h3.00v1.00h-3.00zM33.00 3.00h2.00v1.00h-2.00zM37.00 3.00h1.00v1.00h-1.00zM39.00 3.00h1.00v1.00h-1.00zM45.00 3.00h3.00v1.00h-3.00zM0.00 4.00h2.00v1.00h-2.00zM3.00 4.00h1.00v1.00h-1.00zM5.00 4.00h2.00v1.00h-2.00zM8.00 4.00h3.00v1.00h-3.00zM14.00 4.00h2.00v1.00h-2.00zM17.00 4.00h2.00v1.00h-2.00zM20.00 4.00h5.00v1.00h-5.00zM26.00 4.00h2.00v1.00h-2.00zM29.00 4.00h6.00v1.00h-6.00zM36.00 4.00h1.00v1.00h-1.00zM41.00 4.00h5.00v1.00h-5.00zM49.00 4.00h1.00v1.00h-1.00zM3.00 5.00h9.00v1.00h-9.00zM15.00 5.00h1.00v1.00h-1.00zM18.00 5.00h1.00v1.00h-1.00zM21.00 5.00h2.00v1.00h-2.00zM25.00 5.00h5.00v1.00h-5.00zM32.00 5.00h2.00v1.00h-2.00zM36.00 5.00h3.00v1.00h-3.00zM40.00 5.00h3.00v1.00h-3.00zM48.00 5.00h1.00v1.00h-1.00zM0.00 6.00h1.00v1.00h-1.00zM2.00 6.00h1.00v1.00h-1.00zM4.00 6.00h2.00v1.00h-2.00zM7.00 6.00h6.00v1.00h-6.00zM17.00 6.00h6.00v1.00h-6.00zM24.00 6.00h4.00v1.00h-4.00zM30.00 6.00h8.00v1.00h-8.00zM39.00 6.00h1.00v1.00h-1.00zM43.00 6.00h3.00v1.00h-3.00zM47.00 6.00h3.00v1.00h-3.00zM0.00 7.00h2.00v1.00h-2.00zM3.00 7.00h3.00v1.00h-3.00zM8.00 7.00h1.00v1.00h-1.00zM12.00 7.00h7.00v1.00h-7.00zM22.00 7.00h3.00v1.00h-3.00zM27.00 7.00h2.00v1.00h-2.00zM30.00 7.00h2.00v1.00h-2.00zM34.00 7.00h6.00v1.00h-6.00zM44.00 7.00h6.00v1.00h-6.00zM5.00 8.00h1.00v1.00h-1.00zM8.00 8.00h1.00v1.00h-1.00zM12.00 8.00h3.00v1.00h-3.00zM19.00 8.00h2.00v1.00h-2.00zM24.00 8.00h1.00v1.00h-1.00zM29.00 8.00h2.00v1.00h-2.00zM33.00 8.00h3.00v1.00h-3.00zM37.00 8.00h5.00v1.00h-5.00zM45.00 8.00h1.00v1.00h-1.00zM48.00 8.00h2.00v1.00h-2.00zM0.00 9.00h1.00v1.00h-1.00zM3.00 9.00h1.00v1.00h-1.00zM5.00 9.00h2.00v1.00h-2.00zM8.00 9.00h2.00v1.00h-2.00zM13.00 9.00h1.00v1.00h-1.00zM16.00 9.00h1.00v1.00h-1.00zM18.00 9.00h1.00v1.00h-1.00zM20.00 9.00h1.00v1.00h-1.00zM24.00 9.00h2.00v1.00h-2.00zM28.00 9.00h1.00v1.00h-1.00zM30.00 9.00h2.00v1.00h-2.00zM34.00 9.00h1.00v1.00h-1.00zM36.00 9.00h4.00v1.00h-4.00zM44.00 9.00h2.00v1.00h-2.00zM49.00 9.00h1.00v1.00h-1.00zM0.00 10.00h3.00v1.00h-3.00zM5.00 10.00h1.00v1.00h-1.00zM7.00 10.00h1.00v1.00h-1.00zM12.00 10.00h2.00v1.00h-2.00zM15.00 10.00h3.00v1.00h-3.00zM24.00 10.00h1.00v1.00h-1.00zM26.00 10.00h2.00v1.00h-2.00zM31.00 10.00h1.00v1.00h-1.00zM33.00 10.00h3.00v1.00h-3.00zM38.00 10.00h2.00v1.00h-2.00zM41.00 10.00h1.00v1.00h-1.00zM45.00 10.00h5.00v1.00h-5.00zM0.00 11.00h2.00v1.00h-2.00zM8.00 11.00h1.00v1.00h-1.00zM14.00 11.00h2.00v1.00h-2.00zM17.00 11.00h1.00v1.00h-1.00zM25.00 11.00h2.00v1.00h-2.00zM32.00 11.00h1.00v1.00h-1.00zM34.00 11.00h1.00v1.00h-1.00zM43.00 11.00h1.00v1.00h-1.00zM46.00 11.00h1.00v1.00h-1.00zM48.00 11.00h1.00v1.00h-1.00zM0.00 12.00h1.00v1.00h-1.00zM2.00 12.00h2.00v1.00h-2.00zM12.00 12.00h2.00v1.00h-2.00zM16.00 12.00h1.00v1.00h-1.00zM18.00 12.00h3.00v1.00h-3.00zM22.00 12.00h7.00v1.00h-7.00zM30.00 12.00h4.00v1.00h-4.00zM41.00 12.00h1.00v1.00h-1.00zM43.00 12.00h7.00v1.00h-7.00zM0.00 13.00h4.00v1.00h-4.00zM5.00 13.00h1.00v1.00h-1.00zM7.00 13.00h1.00v1.00h-1.00zM10.00 13.00h1.00v1.00h-1.00zM12.00 13.00h2.00v1.00h-2.00zM17.00 13.00h5.00v1.00h-5.00zM24.00 13.00h2.00v1.00h-2.00zM28.00 13.00h4.00v1.00h-4.00zM33.00 13.00h1.00v1.00h-1.00zM35.00 13.00h2.00v1.00h-2.00zM42.00 13.00h4.00v1.00h-4.00zM48.00 13.00h2.00v1.00h-2.00zM0.00 14.00h1.00v1.00h-1.00zM2.00 14.00h2.00v1.00h-2.00zM5.00 14.00h1.00v1.00h-1.00zM7.00 14.00h1.00v1.00h-1.00zM10.00 14.00h3.00v1.00h-3.00zM14.00 14.00h5.00v1.00h-5.00zM21.00 14.00h2.00v1.00h-2.00zM24.00 14.00h2.00v1.00h-2.00zM27.00 14.00h5.00v1.00h-5.00zM35.00 14.00h1.00v1.00h-1.00zM37.00 14.00h3.00v1.00h-3.00zM43.00 14.00h1.00v1.00h-1.00zM45.00 14.00h1.00v1.00h-1.00zM0.00 15.00h1.00v1.00h-1.00zM2.00 15.00h2.00v1.00h-2.00zM5.00 15.00h4.00v1.00h-4.00zM10.00 15.00h1.00v1.00h-1.00zM12.00 15.00h11.00v1.00h-11.00zM24.00 15.00h1.00v1.00h-1.00zM26.00 15.00h1.00v1.00h-1.00zM29.00 15.00h3.00v1.00h-3.00zM36.00 15.00h2.00v1.00h-2.00zM44.00 15.00h3.00v1.00h-3.00zM0.00 16.00h1.00v1.00h-1.00zM2.00 16.00h2.00v1.00h-2.00zM10.00 16.00h2.00v1.00h-2.00zM14.00 16.00h10.00v1.00h-10.00zM27.00 16.00h2.00v1.00h-2.00zM34.00 16.00h2.00v1.00h-2.00zM39.00 16.00h1.00v1.00h-1.00zM46.00 16.00h1.00v1.00h-1.00zM48.00 16.00h2.00v1.00h-2.00zM7.00 17.00h5.00v1.00h-5.00zM13.00 17.00h1.00v1.00h-1.00zM16.00 17.00h3.00v1.00h-3.00zM20.00 17.00h1.00v1.00h-1.00zM22.00 17.00h1.00v1.00h-1.00zM24.00 17.00h2.00v1.00h-2.00zM28.00 17.00h4.00v1.00h-4.00zM34.00 17.00h2.00v1.00h-2.00zM39.00 17.00h3.00v1.00h-3.00zM44.00 17.00h1.00v1.00h-1.00zM46.00 17.00h2.00v1.00h-2.00zM5.00 18.00h1.00v1.00h-1.00zM7.00 18.00h1.00v1.00h-1.00zM10.00 18.00h7.00v1.00h-7.00zM18.00 18.00h2.00v1.00h-2.00zM21.00 18.00h4.00v1.00h-4.00zM26.00 18.00h2.00v1.00h-2.00zM32.00 18.00h2.00v1.00h-2.00zM35.00 18.00h2.00v1.00h-2.00zM39.00 18.00h3.00v1.00h-3.00zM43.00 18.00h2.00v1.00h-2.00zM1.00 19.00h2.00v1.00h-2.00zM4.00 19.00h1.00v1.00h-1.00zM7.00 19.00h2.00v1.00h-2.00zM10.00 19.00h7.00v1.00h-7.00zM19.00 19.00h1.00v1.00h-1.00zM23.00 19.00h3.00v1.00h-3.00zM27.00 19.00h2.00v1.00h-2.00zM32.00 19.00h1.00v1.00h-1.00zM37.00 19.00h1.00v1.00h-1.00zM43.00 19.00h5.00v1.00h-5.00zM0.00 20.00h2.00v1.00h-2.00zM4.00 20.00h4.00v1.00h-4.00zM9.00 20.00h6.00v1.00h-6.00zM16.00 20.00h1.00v1.00h-1.00zM20.00 20.00h3.00v1.00h-3.00zM24.00 20.00h1.00v1.00h-1.00zM28.00 20.00h2.00v1.00h-2.00zM35.00 20.00h1.00v1.00h-1.00zM39.00 20.00h2.00v1.00h-2.00zM42.00 20.00h2.00v1.00h-2.00zM1.00 21.00h1.00v1.00h-1.00zM3.00 21.00h1.00v1.00h-1.00zM6.00 21.00h6.00v1.00h-6.00zM14.00 21.00h1.00v1.00h-1.00zM16.00 21.00h3.00v1.00h-3.00zM20.00 21.00h2.00v1.00h-2.00zM23.00 21.00h1.00v1.00h-1.00zM27.00 21.00h3.00v1.00h-3.00zM34.00 21.00h1.00v1.00h-1.00zM36.00 21.00h1.00v1.00h-1.00zM41.00 21.00h1.00v1.00h-1.00zM44.00 21.00h1.00v1.00h-1.00zM47.00 21.00h1.00v1.00h-1.00zM49.00 21.00h1.00v1.00h-1.00zM0.00 22.00h2.00v1.00h-2.00zM3.00 22.00h1.00v1.00h-1.00zM5.00 22.00h3.00v1.00h-3.00zM10.00 22.00h3.00v1.00h-3.00zM19.00 22.00h4.00v1.00h-4.00zM24.00 22.00h1.00v1.00h-1.00zM30.00 22.00h11.00v1.00h-11.00zM43.00 22.00h1.00v1.00h-1.00zM45.00 22.00h1.00v1.00h-1.00zM48.00 22.00h1.00v1.00h-1.00zM2.00 23.00h2.00v1.00h-2.00zM7.00 23.00h1.00v1.00h-1.00zM10.00 23.00h2.00v1.00h-2.00zM13.00 23.00h1.00v1.00h-1.00zM17.00 23.00h1.00v1.00h-1.00zM21.00 23.00h1.00v1.00h-1.00zM28.00 23.00h3.00v1.00h-3.00zM32.00 23.00h4.00v1.00h-4.00zM37.00 23.00h7.00v1.00h-7.00zM45.00 23.00h1.00v1.00h-1.00zM2.00 24.00h1.00v1.00h-1.00zM5.00 24.00h5.00v1.00h-5.00zM11.00 24.00h2.00v1.00h-2.00zM14.00 24.00h2.00v1.00h-2.00zM18.00 24.00h1.00v1.00h-1.00zM21.00 24.00h1.00v1.00h-1.00zM23.00 24.00h2.00v1.00h-2.00zM26.00 24.00h2.00v1.00h-2.00zM31.00 24.00h1.00v1.00h-1.00zM40.00 24.00h2.00v1.00h-2.00zM45.00 24.00h1.00v1.00h-1.00zM48.00 24.00h2.00v1.00h-2.00zM0.00 25.00h1.00v1.00h-1.00zM6.00 25.00h2.00v1.00h-2.00zM12.00 25.00h2.00v1.00h-2.00zM18.00 25.00h7.00v1.00h-7.00zM26.00 25.00h4.00v1.00h-4.00zM31.00 25.00h1.00v1.00h-1.00zM38.00 25.00h1.00v1.00h-1.00zM40.00 25.00h2.00v1.00h-2.00zM43.00 25.00h1.00v1.00h-1.00zM46.00 25.00h1.00v1.00h-1.00zM0.00 26.00h2.00v1.00h-2.00zM4.00 26.00h2.00v1.00h-2.00zM7.00 26.00h2.00v1.00h-2.00zM10.00 26.00h3.00v1.00h-3.00zM16.00 26.00h4.00v1.00h-4.00zM24.00 26.00h1.00v1.00h-1.00zM27.00 26.00h3.00v1.00h-3.00zM32.00 26.00h2.00v1.00h-2.00zM37.00 26.00h1.00v1.00h-1.00zM40.00 26.00h7.00v1.00h-7.00zM49.00 26.00h1.00v1.00h-1.00zM0.00 27.00h2.00v1.00h-2.00zM4.00 27.00h1.00v1.00h-1.00zM7.00 27.00h1.00v1.00h-1.00zM10.00 27.00h2.00v1.00h-2.00zM16.00 27.00h2.00v1.00h-2.00zM19.00 27.00h7.00v1.00h-7.00zM27.00 27.00h4.00v1.00h-4.00zM32.00 27.00h2.00v1.00h-2.00zM40.00 27.00h2.00v1.00h-2.00zM43.00 27.00h1.00v1.00h-1.00zM45.00 27.00h1.00v1.00h-1.00zM4.00 28.00h1.00v1.00h-1.00zM6.00 28.00h2.00v1.00h-2.00zM11.00 28.00h1.00v1.00h-1.00zM14.00 28.00h2.00v1.00h-2.00zM19.00 28.00h2.00v1.00h-2.00zM22.00 28.00h1.00v1.00h-1.00zM24.00 28.00h6.00v1.00h-6.00zM33.00 28.00h2.00v1.00h-2.00zM36.00 28.00h2.00v1.00h-2.00zM42.00 28.00h2.00v1.00h-2.00zM45.00 28.00h4.00v1.00h-4.00zM7.00 29.00h2.00v1.00h-2.00zM10.00 29.00h3.00v1.00h-3.00zM14.00 29.00h3.00v1.00h-3.00zM19.00 29.00h4.00v1.00h-4.00zM25.00 29.00h1.00v1.00h-1.00zM27.00 29.00h1.00v1.00h-1.00zM29.00 29.00h3.00v1.00h-3.00zM33.00 29.00h4.00v1.00h-4.00zM39.00 29.00h6.00v1.00h-6.00zM46.00 29.00h2.00v1.00h-2.00zM0.00 30.00h3.00v1.00h-3.00zM7.00 30.00h3.00v1.00h-3.00zM11.00 30.00h4.00v1.00h-4.00zM16.00 30.00h2.00v1.00h-2.00zM20.00 30.00h1.00v1.00h-1.00zM24.00 30.00h1.00v1.00h-1.00zM26.00 30.00h2.00v1.00h-2.00zM30.00 30.00h1.00v1.00h-1.00zM36.00 30.00h4.00v1.00h-4.00zM44.00 30.00h2.00v1.00h-2.00zM47.00 30.00h1.00v1.00h-1.00zM0.00 31.00h2.00v1.00h-2.00zM3.00 31.00h1.00v1.00h-1.00zM8.00 31.00h1.00v1.00h-1.00zM11.00 31.00h2.00v1.00h-2.00zM16.00 31.00h1.00v1.00h-1.00zM18.00 31.00h2.00v1.00h-2.00zM24.00 31.00h4.00v1.00h-4.00zM29.00 31.00h3.00v1.00h-3.00zM34.00 31.00h6.00v1.00h-6.00zM44.00 31.00h2.00v1.00h-2.00zM48.00 31.00h1.00v1.00h-1.00zM3.00 32.00h1.00v1.00h-1.00zM6.00 32.00h3.00v1.00h-3.00zM14.00 32.00h4.00v1.00h-4.00zM22.00 32.00h2.00v1.00h-2.00zM26.00 32.00h1.00v1.00h-1.00zM29.00 32.00h6.00v1.00h-6.00zM36.00 32.00h4.00v1.00h-4.00zM43.00 32.00h3.00v1.00h-3.00zM48.00 32.00h2.00v1.00h-2.00zM0.00 33.00h1.00v1.00h-1.00zM2.00 33.00h1.00v1.00h-1.00zM4.00 33.00h1.00v1.00h-1.00zM6.00 33.00h2.00v1.00h-2.00zM9.00 33.00h1.00v1.00h-1.00zM11.00 33.00h1.00v1.00h-1.00zM16.00 33.00h2.00v1.00h-2.00zM19.00 33.00h2.00v1.00h-2.00zM22.00 33.00h1.00v1.00h-1.00zM26.00 33.00h1.00v1.00h-1.00zM28.00 33.00h9.00v1.00h-9.00zM38.00 33.00h6.00v1.00h-6.00zM48.00 33.00h2.00v1.00h-2.00zM0.00 34.00h1.00v1.00h-1.00zM3.00 34.00h1.00v1.00h-1.00zM5.00 34.00h1.00v1.00h-1.00zM7.00 34.00h2.00v1.00h-2.00zM10.00 34.00h2.00v1.00h-2.00zM13.00 34.00h2.00v1.00h-2.00zM16.00 34.00h1.00v1.00h-1.00zM18.00 34.00h2.00v1.00h-2.00zM21.00 34.00h1.00v1.00h-1.00zM26.00 34.00h1.00v1.00h-1.00zM28.00 34.00h3.00v1.00h-3.00zM33.00 34.00h1.00v1.00h-1.00zM35.00 34.00h1.00v1.00h-1.00zM37.00 34.00h1.00v1.00h-1.00zM39.00 34.00h1.00v1.00h-1.00zM46.00 34.00h4.00v1.00h-4.00zM4.00 35.00h3.00v1.00h-3.00zM11.00 35.00h1.00v1.00h-1.00zM16.00 35.00h3.00v1.00h-3.00zM21.00 35.00h1.00v1.00h-1.00zM29.00 35.00h1.00v1.00h-1.00zM34.00 35.00h1.00v1.00h-1.00zM37.00 35.00h1.00v1.00h-1.00zM42.00 35.00h1.00v1.00h-1.00zM46.00 35.00h4.00v1.00h-4.00zM0.00 36.00h1.00v1.00h-1.00zM3.00 36.00h3.00v1.00h-3.00zM8.00 36.00h1.00v1.00h-1.00zM16.00 36.00h1.00v1.00h-1.00zM20.00 36.00h1.00v1.00h-1.00zM23.00 36.00h1.00v1.00h-1.00zM26.00 36.00h3.00v1.00h-3.00zM31.00 36.00h1.00v1.00h-1.00zM36.00 36.00h3.00v1.00h-3.00zM40.00 36.00h2.00v1.00h-2.00zM43.00 36.00h1.00v1.00h-1.00zM46.00 36.00h1.00v1.00h-1.00zM49.00 36.00h1.00v1.00h-1.00zM1.00 37.00h4.00v1.00h-4.00zM7.00 37.00h1.00v1.00h-1.00zM9.00 37.00h2.00v1.00h-2.00zM16.00 37.00h2.00v1.00h-2.00zM21.00 37.00h3.00v1.00h-3.00zM27.00 37.00h2.00v1.00h-2.00zM33.00 37.00h1.00v1.00h-1.00zM35.00 37.00h4.00v1.00h-4.00zM41.00 37.00h1.00v1.00h-1.00zM43.00 37.00h2.00v1.00h-2.00zM48.00 37.00h1.00v1.00h-1.00zM0.00 38.00h1.00v1.00h-1.00zM2.00 38.00h1.00v1.00h-1.00zM5.00 38.00h3.00v1.00h-3.00zM9.00 38.00h3.00v1.00h-3.00zM14.00 38.00h2.00v1.00h-2.00zM17.00 38.00h2.00v1.00h-2.00zM20.00 38.00h1.00v1.00h-1.00zM24.00 38.00h1.00v1.00h-1.00zM27.00 38.00h1.00v1.00h-1.00zM32.00 38.00h1.00v1.00h-1.00zM35.00 38.00h1.00v1.00h-1.00zM38.00 38.00h2.00v1.00h-2.00zM41.00 38.00h1.00v1.00h-1.00zM1.00 39.00h10.00v1.00h-10.00zM14.00 39.00h2.00v1.00h-2.00zM18.00 39.00h1.00v1.00h-1.00zM20.00 39.00h2.00v1.00h-2.00zM24.00 39.00h1.00v1.00h-1.00zM28.00 39.00h2.00v1.00h-2.00zM31.00 39.00h1.00v1.00h-1.00zM34.00 39.00h2.00v1.00h-2.00zM38.00 39.00h2.00v1.00h-2.00zM41.00 39.00h1.00v1.00h-1.00zM43.00 39.00h2.00v1.00h-2.00zM47.00 39.00h1.00v1.00h-1.00zM0.00 40.00h1.00v1.00h-1.00zM3.00 40.00h5.00v1.00h-5.00zM12.00 40.00h3.00v1.00h-3.00zM17.00 40.00h3.00v1.00h-3.00zM21.00 40.00h1.00v1.00h-1.00zM23.00 40.00h1.00v1.00h-1.00zM30.00 40.00h2.00v1.00h-2.00zM35.00 40.00h2.00v1.00h-2.00zM38.00 40.00h1.00v1.00h-1.00zM40.00 40.00h2.00v1.00h-2.00zM43.00 40.00h1.00v1.00h-1.00zM2.00 41.00h1.00v1.00h-1.00zM4.00 41.00h5.00v1.00h-5.00zM10.00 41.00h7.00v1.00h-7.00zM19.00 41.00h1.00v1.00h-1.00zM24.00 41.00h2.00v1.00h-2.00zM33.00 41.00h3.00v1.00h-3.00zM38.00 41.00h1.00v1.00h-1.00zM40.00 41.00h2.00v1.00h-2.00zM43.00 41.00h2.00v1.00h-2.00zM47.00 41.00h3.00v1.00h-3.00zM0.00 42.00h1.00v1.00h-1.00zM2.00 42.00h4.00v1.00h-4.00zM7.00 42.00h1.00v1.00h-1.00zM9.00 42.00h1.00v1.00h-1.00zM15.00 42.00h3.00v1.00h-3.00zM19.00 42.00h4.00v1.00h-4.00zM25.00 42.00h1.00v1.00h-1.00zM30.00 42.00h6.00v1.00h-6.00zM37.00 42.00h3.00v1.00h-3.00zM41.00 42.00h1.00v1.00h-1.00zM44.00 42.00h1.00v1.00h-1.00zM46.00 42.00h1.00v1.00h-1.00zM0.00 43.00h8.00v1.00h-8.00zM16.00 43.00h2.00v1.00h-2.00zM20.00 43.00h6.00v1.00h-6.00zM30.00 43.00h2.00v1.00h-2.00zM35.00 43.00h10.00v1.00h-10.00zM46.00 43.00h1.00v1.00h-1.00zM49.00 43.00h1.00v1.00h-1.00zM0.00 44.00h2.00v1.00h-2.00zM7.00 44.00h1.00v1.00h-1.00zM11.00 44.00h2.00v1.00h-2.00zM14.00 44.00h4.00v1.00h-4.00zM19.00 44.00h1.00v1.00h-1.00zM21.00 44.00h2.00v1.00h-2.00zM24.00 44.00h2.00v1.00h-2.00zM29.00 44.00h2.00v1.00h-2.00zM32.00 44.00h2.00v1.00h-2.00zM35.00 44.00h3.00v1.00h-3.00zM39.00 44.00h1.00v1.00h-1.00zM42.00 44.00h1.00v1.00h-1.00zM44.00 44.00h1.00v1.00h-1.00zM47.00 44.00h1.00v1.00h-1.00zM4.00 45.00h3.00v1.00h-3.00zM8.00 45.00h2.00v1.00h-2.00zM11.00 45.00h4.00v1.00h-4.00zM16.00 45.00h1.00v1.00h-1.00zM18.00 45.00h1.00v1.00h-1.00zM20.00 45.00h1.00v1.00h-1.00zM22.00 45.00h4.00v1.00h-4.00zM27.00 45.00h1.00v1.00h-1.00zM30.00 45.00h1.00v1.00h-1.00zM32.00 45.00h6.00v1.00h-6.00zM42.00 45.00h1.00v1.00h-1.00zM3.00 46.00h3.00v1.00h-3.00zM8.00 46.00h4.00v1.00h-4.00zM14.00 46.00h2.00v1.00h-2.00zM19.00 46.00h4.00v1.00h-4.00zM28.00 46.00h1.00v1.00h-1.00zM31.00 46.00h1.00v1.00h-1.00zM34.00 46.00h2.00v1.00h-2.00zM38.00 46.00h4.00v1.00h-4.00zM43.00 46.00h3.00v1.00h-3.00zM48.00 46.00h2.00v1.00h-2.00zM1.00 47.00h2.00v1.00h-2.00zM4.00 47.00h3.00v1.00h-3.00zM8.00 47.00h4.00v1.00h-4.00zM13.00 47.00h1.00v1.00h-1.00zM15.00 47.00h1.00v1.00h-1.00zM19.00 47.00h5.00v1.00h-5.00zM31.00 47.00h1.00v1.00h-1.00zM33.00 47.00h1.00v1.00h-1.00zM35.00 47.00h2.00v1.00h-2.00zM38.00 47.00h2.00v1.00h-2.00zM41.00 47.00h1.00v1.00h-1.00zM43.00 47.00h3.00v1.00h-3.00zM48.00 47.00h1.00v1.00h-1.00zM0.00 48.00h2.00v1.00h-2.00zM3.00 48.00h1.00v1.00h-1.00zM8.00 48.00h5.00v1.00h-5.00zM16.00 48.00h2.00v1.00h-2.00zM19.00 48.00h3.00v1.00h-3.00zM24.00 48.00h8.00v1.00h-8.00zM33.00 48.00h3.00v1.00h-3.00zM37.00 48.00h5.00v1.00h-5.00zM43.00 48.00h1.00v1.00h-1.00zM45.00 48.00h2.00v1.00h-2.00zM48.00 48.00h2.00v1.00h-2.00zM1.00 49.00h2.00v1.00h-2.00zM5.00 49.00h2.00v1.00h-2.00zM10.00 49.00h1.00v1.00h-1.00zM12.00 49.00h2.00v1.00h-2.00zM15.00 49.00h4.00v1.00h-4.00zM20.00 49.00h1.00v1.00h-1.00zM23.00 49.00h2.00v1.00h-2.00zM26.00 49.00h1.00v1.00h-1.00zM28.00 49.00h1.00v1.00h-1.00zM30.00 49.00h5.00v1.00h-5.00zM37.00 49.00h1.00v1.00h-1.00zM39.00 49.00h3.00v1.00h-3.00zM43.00 49.00h1.00v1.00h-1.00zM46.00 49.00h1.00v1.00h-1.00zM49.00 49.00h1.00v1.00h-1.00z" fill="#1a1a1a"/>
<rect x="-1.00" y="-1.00" width="9.00" height="9.00" fill="#fff"/>
<rect x="0.50" y="0.50" width="6.00" height="6.00" fill="#fff" stroke="#1a1a1a" stroke-width="1.00"/>
<rect x="2.00" y="2.00" width="3.00" height="3.00" fill="#1a1a1a"/>
<rect x="42.00" y="-1.00" width="9.00" height="9.00" fill="#fff"/>
<rect x="43.50" y="0.50" width="6.00" height="6.00" fill="#fff" stroke="#1a1a1a" stroke-width="1.00"/>
<rect x="45.00" y="2.00" width="3.00" height="3.00" fill="#1a1a1a"/>
<rect x="-1.00" y="42.00" width="9.00" height="9.00" fill="#fff"/>
<rect x="0.50" y="43.50" width="6.00" height="6.00" fill="#fff" stroke="#1a1a1a" stroke-width="1.00"/>
<rect x="2.00" y="45.00" width="3.00" height="3.00" fill="#1a1a1a"/>
</g>
<text transform="translate(413.63 862.3) scale(1.0870 1)" font-family="'DejaVu Sans', 'Liberation Sans', sans-serif" font-weight="normal" font-size="12.3" fill="#1a1a1a" stroke="#1a1a1a" stroke-width="0.4">737017</text>
<text transform="translate(291.70 964.0) scale(1.0449 1)" font-family="'Liberation Sans', sans-serif" font-weight="bold" font-size="15.4" fill="#1a1a1a" stroke="#1a1a1a" stroke-width="0.3">www.lightstar.ru</text>
</svg>
</body></html>
